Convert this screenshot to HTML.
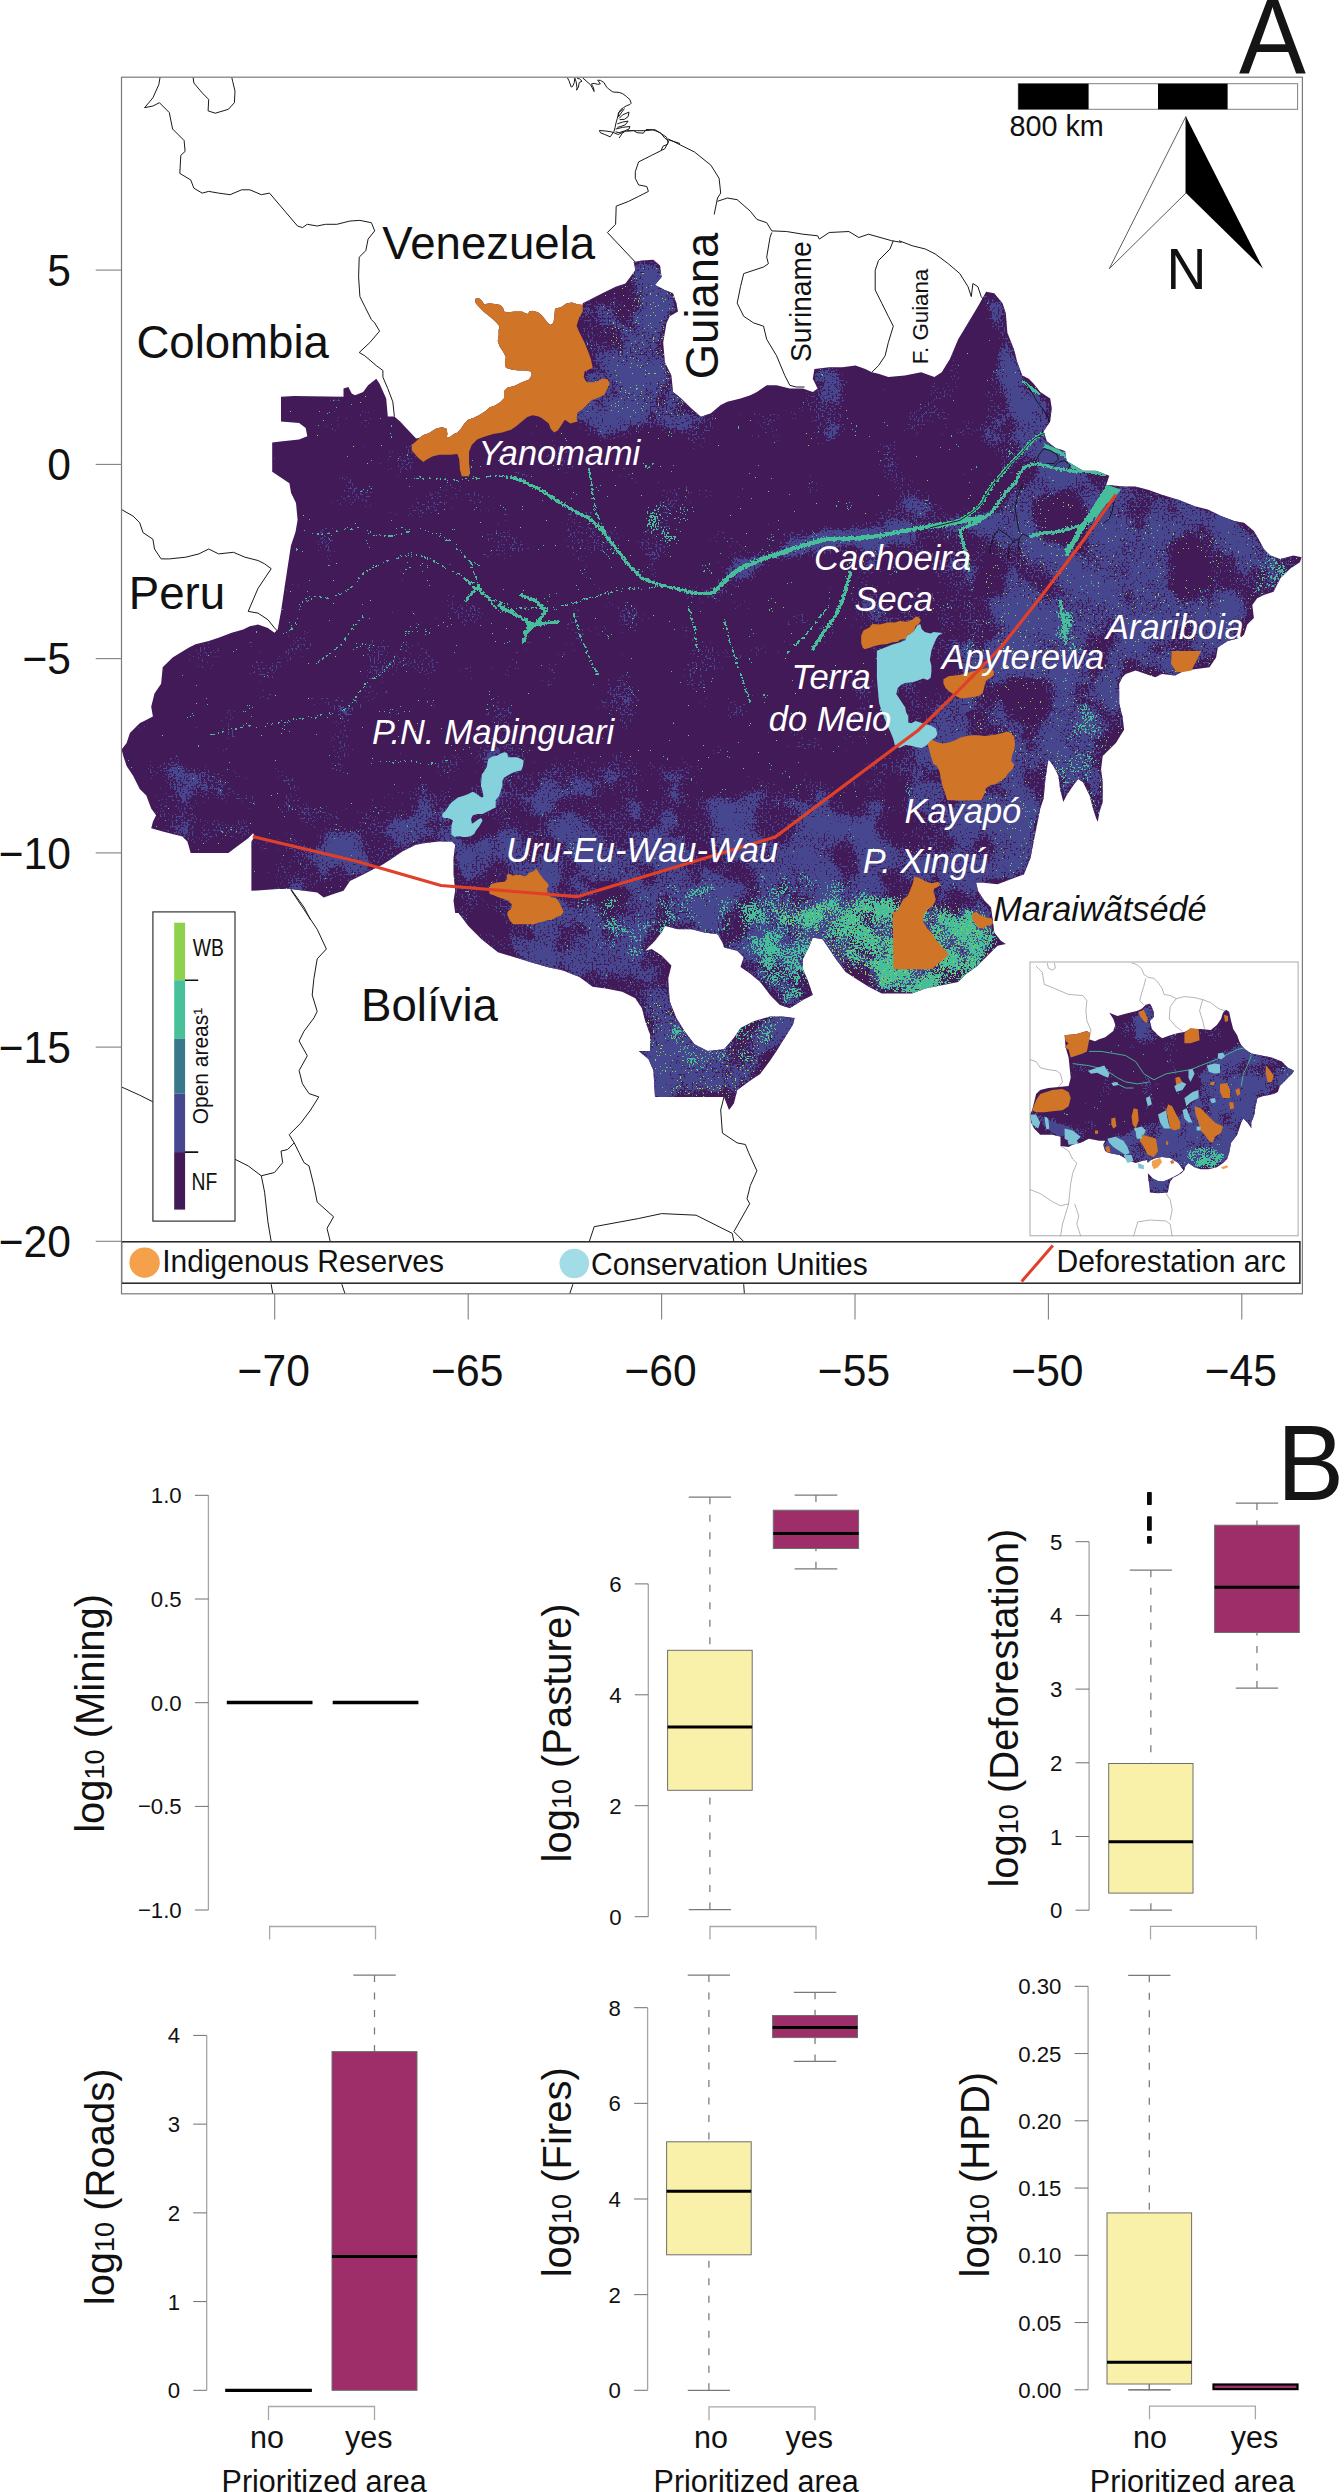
<!DOCTYPE html>
<html><head><meta charset="utf-8"><style>
html,body{margin:0;padding:0;background:#fff;}
svg{display:block;font-family:"Liberation Sans", sans-serif;}
</style></head><body>
<svg width="1339" height="2492" viewBox="0 0 1339 2492">
<rect width="1339" height="2492" fill="#fff"/>
<defs>
<clipPath id="frame"><rect x="121.5" y="77.2" width="1180.9" height="1216.6"/></clipPath>
<clipPath id="amz"><path d="M281.0 421.5 L299.1 423.1 L305.7 428.0 L307.3 436.3 L299.1 439.6 L282.7 441.2 L272.2 442.5 L272.2 471.7 L289.4 483.2 L291.1 493.1 L296.0 503.0 L297.6 520.0 L295.5 532.0 L290.9 545.7 L285.9 578.6 L281.0 611.4 L277.7 629.5 L274.5 632.8 L267.9 627.9 L258.0 624.6 L249.8 626.2 L243.2 629.5 L231.7 632.8 L218.6 637.7 L208.7 641.0 L195.6 644.3 L189.0 647.6 L172.6 657.5 L162.7 667.3 L161.1 683.7 L154.5 693.6 L151.2 706.7 L152.9 716.6 L139.7 723.2 L129.9 733.0 L126.6 742.9 L121.6 749.5 L123.3 756.0 L126.6 765.9 L133.1 775.8 L139.7 788.9 L146.3 795.5 L151.2 808.6 L156.1 815.2 L152.9 821.8 L151.2 828.3 L162.7 831.6 L182.4 836.5 L187.4 841.5 L190.7 853.0 L228.4 853.0 L235.0 848.0 L248.2 838.2 L253.1 833.3 L254.7 836.5 L251.4 841.5 L251.4 890.8 L277.7 889.1 L290.9 889.1 L304.0 890.8 L317.2 892.4 L323.7 897.4 L333.6 894.1 L343.5 890.8 L350.0 880.9 L363.2 874.4 L376.3 867.8 L382.9 864.5 L392.8 857.9 L402.6 851.3 L415.8 844.8 L425.6 843.1 L438.8 841.5 L451.9 841.5 L455.2 844.8 L453.5 857.9 L453.5 874.4 L455.2 890.8 L453.5 900.6 L455.2 912.9 L458.5 912.9 L468.3 926.0 L481.5 939.2 L497.9 952.3 L514.4 957.2 L530.8 962.2 L547.2 967.1 L563.0 970.4 L579.4 976.9 L592.6 986.8 L605.7 988.4 L622.2 991.7 L635.3 998.3 L641.9 1008.2 L645.2 1021.3 L650.1 1034.5 L650.1 1050.9 L638.6 1050.9 L648.4 1059.1 L653.4 1070.6 L655.0 1096.9 L694.5 1096.9 L724.0 1096.9 L729.0 1110.0 L733.9 1103.5 L737.2 1090.3 L750.3 1080.5 L760.2 1073.9 L770.0 1060.7 L776.6 1050.9 L784.8 1037.7 L793.0 1024.6 L794.7 1018.0 L783.2 1016.4 L770.0 1016.4 L753.6 1021.3 L740.5 1027.9 L733.9 1037.7 L724.0 1049.2 L707.6 1050.9 L694.5 1044.3 L684.6 1031.2 L676.4 1018.0 L669.8 1001.6 L668.2 978.6 L671.4 965.4 L661.6 955.6 L651.7 949.0 L645.2 950.7 L655.0 940.8 L661.6 932.6 L664.9 926.0 L678.0 929.3 L691.2 929.3 L704.3 932.6 L717.5 934.2 L722.4 942.4 L724.0 947.4 L737.2 950.7 L743.7 957.2 L740.5 967.1 L750.3 973.7 L760.2 981.9 L770.0 995.0 L779.9 1004.9 L789.8 1008.2 L802.9 999.9 L812.8 995.0 L807.8 980.2 L802.9 968.7 L802.9 958.9 L809.5 945.7 L812.8 937.5 L822.6 939.2 L829.2 949.0 L835.8 958.9 L845.6 972.0 L855.5 978.6 L868.6 986.8 L881.8 993.4 L898.2 993.4 L912.1 993.4 L925.3 988.4 L941.7 985.2 L958.2 981.9 L964.7 975.3 L977.9 965.4 L987.7 955.6 L997.6 945.7 L1005.8 944.1 L1000.9 940.8 L994.3 932.6 L992.7 919.4 L991.0 907.2 L984.4 900.6 L977.9 890.8 L976.2 882.6 L981.2 882.6 L997.6 884.2 L1010.7 879.3 L1023.9 874.4 L1030.5 857.9 L1033.7 841.5 L1037.0 825.0 L1040.3 808.6 L1043.6 798.8 L1045.2 782.3 L1046.9 769.2 L1048.5 759.3 L1053.5 765.9 L1058.4 775.8 L1060.0 788.9 L1063.3 802.0 L1066.6 795.5 L1073.2 785.6 L1078.1 779.0 L1083.0 782.3 L1089.6 795.5 L1092.9 808.6 L1096.2 818.5 L1097.8 821.8 L1099.5 811.9 L1102.7 802.0 L1102.7 782.3 L1101.1 769.2 L1102.7 756.0 L1109.3 749.5 L1115.9 742.9 L1124.1 729.8 L1122.5 716.6 L1119.2 703.5 L1119.2 683.7 L1122.5 677.2 L1125.7 673.9 L1135.6 670.6 L1155.3 677.2 L1161.9 673.9 L1175.0 675.5 L1184.9 670.6 L1196.4 669.0 L1209.5 667.3 L1216.1 657.5 L1217.8 647.6 L1227.6 641.0 L1240.8 637.7 L1244.1 634.5 L1247.3 624.6 L1253.9 618.0 L1252.3 604.9 L1257.2 598.3 L1263.8 595.0 L1273.6 591.7 L1280.2 578.6 L1290.1 568.7 L1299.9 562.2 L1301.6 557.2 L1293.4 555.6 L1280.2 558.9 L1270.3 555.6 L1263.8 549.0 L1260.5 542.4 L1253.9 530.9 L1244.1 522.7 L1234.2 521.1 L1221.0 516.1 L1207.9 509.6 L1194.8 506.3 L1178.3 499.7 L1161.9 494.8 L1148.8 489.9 L1135.6 486.6 L1122.5 486.6 L1109.3 484.9 L1106.0 485.6 L1109.3 475.7 L1096.2 470.8 L1083.0 470.8 L1066.6 460.9 L1065.0 451.1 L1055.1 447.8 L1046.9 441.2 L1043.6 431.3 L1050.2 421.5 L1051.8 408.3 L1050.2 398.5 L1040.3 391.9 L1033.7 383.7 L1028.8 378.8 L1022.2 375.5 L1017.3 362.3 L1014.0 349.2 L1007.4 332.8 L1005.8 313.0 L1002.5 303.2 L994.3 293.3 L986.1 291.7 L977.9 306.5 L968.0 322.9 L958.2 339.3 L949.9 359.0 L941.7 372.2 L934.4 377.1 L921.2 372.2 L904.8 375.5 L888.3 377.1 L878.5 373.8 L871.9 372.2 L865.3 368.9 L855.5 365.6 L842.3 367.3 L829.2 367.3 L814.4 368.9 L812.8 378.8 L817.7 388.6 L812.8 391.9 L802.9 388.6 L789.8 388.6 L776.6 385.3 L766.7 385.3 L756.9 391.9 L750.3 395.2 L740.5 398.5 L727.3 401.8 L720.7 405.0 L710.9 413.3 L701.0 416.8 L691.2 408.3 L681.3 398.5 L673.1 391.9 L671.4 375.5 L664.9 362.3 L663.2 342.6 L666.5 322.9 L669.8 316.3 L678.0 311.4 L676.4 303.2 L673.1 293.3 L664.9 290.0 L655.0 285.1 L661.6 276.9 L660.0 265.4 L653.4 259.8 L641.9 260.5 L633.7 262.1 L635.3 270.3 L625.4 283.5 L615.6 286.7 L602.4 293.3 L582.7 303.2 L582.8 305.1 L577.5 304.2 L572.1 302.4 L566.7 303.3 L561.3 306.9 L555.0 308.7 L554.1 318.5 L553.3 323.0 L550.6 324.8 L547.9 323.0 L545.2 319.4 L541.6 315.0 L538.0 312.3 L532.6 310.8 L529.1 311.4 L528.2 314.1 L525.5 313.2 L521.9 311.4 L514.7 311.4 L507.5 312.3 L504.0 311.4 L503.1 307.8 L500.4 305.1 L496.8 304.2 L489.6 303.3 L484.2 304.2 L482.5 301.5 L478.9 297.9 L475.3 298.8 L475.3 302.4 L477.1 305.1 L480.7 308.7 L484.2 312.3 L487.8 315.0 L493.2 319.4 L496.8 323.0 L499.5 326.6 L498.6 330.2 L498.6 335.6 L497.7 340.9 L499.5 346.3 L503.1 351.7 L505.8 357.1 L504.9 362.5 L505.8 367.8 L511.1 369.6 L518.3 370.5 L525.5 370.5 L530.8 371.4 L531.7 375.0 L529.1 379.5 L521.9 382.2 L514.7 385.8 L507.5 387.5 L504.0 391.1 L504.0 398.3 L500.4 401.9 L495.0 405.5 L489.6 407.3 L486.0 410.8 L478.9 415.3 L473.5 418.0 L468.1 419.8 L464.5 423.4 L460.9 428.8 L457.4 432.4 L453.8 434.1 L450.2 436.8 L446.6 437.7 L447.5 434.1 L446.6 428.8 L442.1 427.0 L435.8 428.8 L428.7 433.3 L423.3 435.0 L419.7 437.7 L416.1 438.6 L400.0 421.6 L405.9 426.4 L394.4 416.6 L387.8 416.6 L386.2 398.5 L379.6 383.7 L376.3 378.8 L368.1 385.3 L363.2 391.9 L355.0 395.2 L351.7 393.6 L348.4 387.0 L343.5 388.6 L343.5 396.8 L294.2 395.9 L281.0 396.8 Z"/></clipPath>
<filter id="fmed" filterUnits="userSpaceOnUse" x="100" y="60" width="1220" height="1250" color-interpolation-filters="sRGB"><feGaussianBlur in="SourceAlpha" stdDeviation="6" result="za"/><feTurbulence type="fractalNoise" baseFrequency="0.025" numOctaves="3" seed="3" result="t1"/><feColorMatrix in="t1" type="matrix" values="0 0 0 0 0  0 0 0 0 0  0 0 0 0 0  1 0 0 0 0" result="n1"/><feTurbulence type="fractalNoise" baseFrequency="0.5" numOctaves="1" seed="4" result="t2"/><feColorMatrix in="t2" type="matrix" values="0 0 0 0 0  0 0 0 0 0  0 0 0 0 0  1 0 0 0 0" result="n2"/><feComposite in="n1" in2="n2" operator="arithmetic" k1="0" k2="0.6" k3="0.6" k4="0" result="n"/><feComposite in="za" in2="n" operator="arithmetic" k1="0" k2="0.3" k3="1" k4="0" result="v"/><feComponentTransfer in="v" result="th"><feFuncA type="discrete" tableValues="0 0 0 0 0 0 0 0 0 0 0 0 0 0 0 0 0 0 0 0 0 0 0 0 0 0 0 0 0 0 0 0 0 0 0 0 0 0 0 0 0 0 0 0 0 0 0 0 0 1 1 1 1 1 1 1 1 1 1 1"/></feComponentTransfer><feFlood flood-color="#46478f" result="c"/><feComposite in="c" in2="th" operator="in"/></filter>
<filter id="fteal" filterUnits="userSpaceOnUse" x="100" y="60" width="1220" height="1250" color-interpolation-filters="sRGB"><feGaussianBlur in="SourceAlpha" stdDeviation="4" result="za"/><feTurbulence type="fractalNoise" baseFrequency="0.05" numOctaves="3" seed="21" result="t1"/><feColorMatrix in="t1" type="matrix" values="0 0 0 0 0  0 0 0 0 0  0 0 0 0 0  1 0 0 0 0" result="n1"/><feTurbulence type="fractalNoise" baseFrequency="0.55" numOctaves="1" seed="22" result="t2"/><feColorMatrix in="t2" type="matrix" values="0 0 0 0 0  0 0 0 0 0  0 0 0 0 0  1 0 0 0 0" result="n2"/><feComposite in="n1" in2="n2" operator="arithmetic" k1="0" k2="0.5" k3="0.7" k4="0" result="n"/><feComposite in="za" in2="n" operator="arithmetic" k1="0" k2="0.3" k3="1" k4="0" result="v"/><feComponentTransfer in="v" result="th"><feFuncA type="discrete" tableValues="0 0 0 0 0 0 0 0 0 0 0 0 0 0 0 0 0 0 0 0 0 0 0 0 0 0 0 0 0 0 0 0 0 0 0 0 0 0 0 0 0 0 0 0 0 0 0 0 0 0 0 0 1 1 1 1 1 1 1 1"/></feComponentTransfer><feFlood flood-color="#45be99" result="c"/><feComposite in="c" in2="th" operator="in"/></filter>
<filter id="friv" filterUnits="userSpaceOnUse" x="100" y="60" width="1220" height="1250" color-interpolation-filters="sRGB"><feGaussianBlur in="SourceAlpha" stdDeviation="1.0" result="za"/><feTurbulence type="fractalNoise" baseFrequency="0.45" numOctaves="2" seed="31" result="t2"/><feColorMatrix in="t2" type="matrix" values="0 0 0 0 0  0 0 0 0 0  0 0 0 0 0  1 0 0 0 0" result="n"/><feComposite in="za" in2="n" operator="arithmetic" k1="0" k2="0.7" k3="1" k4="0" result="v"/><feComponentTransfer in="v" result="th"><feFuncA type="discrete" tableValues="0 0 0 0 0 0 0 0 0 0 0 0 0 0 0 0 0 0 0 0 0 0 0 0 0 0 0 0 0 0 0 0 0 0 0 0 0 0 0 0 0 0 0 0 0 0 0 0 0 0 0 0 1 1 1 1 1 1 1 1"/></feComponentTransfer><feFlood flood-color="#45be99" result="c"/><feComposite in="c" in2="th" operator="in"/></filter>
<filter id="fgrn" filterUnits="userSpaceOnUse" x="100" y="60" width="1220" height="1250" color-interpolation-filters="sRGB"><feGaussianBlur in="SourceAlpha" stdDeviation="3.0" result="za"/><feTurbulence type="fractalNoise" baseFrequency="0.6" numOctaves="2" seed="41" result="t2"/><feColorMatrix in="t2" type="matrix" values="0 0 0 0 0  0 0 0 0 0  0 0 0 0 0  1 0 0 0 0" result="n"/><feComposite in="za" in2="n" operator="arithmetic" k1="0" k2="0.22" k3="1" k4="0" result="v"/><feComponentTransfer in="v" result="th"><feFuncA type="discrete" tableValues="0 0 0 0 0 0 0 0 0 0 0 0 0 0 0 0 0 0 0 0 0 0 0 0 0 0 0 0 0 0 0 0 0 0 0 0 0 0 0 0 0 0 0 0 0 0 0 0 0 0 0 1 1 1 1 1 1 1 1 1"/></feComponentTransfer><feFlood flood-color="#8fcf50" result="c"/><feComposite in="c" in2="th" operator="in"/></filter>
<filter id="fims" filterUnits="userSpaceOnUse" x="1025" y="955" width="280" height="290" color-interpolation-filters="sRGB"><feGaussianBlur in="SourceAlpha" stdDeviation="2" result="za"/><feTurbulence type="fractalNoise" baseFrequency="0.05" numOctaves="3" seed="13" result="t1"/><feColorMatrix in="t1" type="matrix" values="0 0 0 0 0  0 0 0 0 0  0 0 0 0 0  1 0 0 0 0" result="n1"/><feTurbulence type="fractalNoise" baseFrequency="0.6" numOctaves="1" seed="14" result="t2"/><feColorMatrix in="t2" type="matrix" values="0 0 0 0 0  0 0 0 0 0  0 0 0 0 0  1 0 0 0 0" result="n2"/><feComposite in="n1" in2="n2" operator="arithmetic" k1="0" k2="0.6" k3="0.6" k4="0" result="n"/><feComposite in="za" in2="n" operator="arithmetic" k1="0" k2="0.3" k3="1" k4="0" result="v"/><feComponentTransfer in="v" result="th"><feFuncA type="discrete" tableValues="0 0 0 0 0 0 0 0 0 0 0 0 0 0 0 0 0 0 0 0 0 0 0 0 0 0 0 0 0 0 0 0 0 0 0 0 0 0 0 0 0 0 0 0 0 0 0 0 1 1 1 1 1 1 1 1 1 1 1 1"/></feComponentTransfer><feFlood flood-color="#46478f" result="c"/><feComposite in="c" in2="th" operator="in"/></filter>
<filter id="fimt" filterUnits="userSpaceOnUse" x="1025" y="955" width="280" height="290" color-interpolation-filters="sRGB"><feGaussianBlur in="SourceAlpha" stdDeviation="1.5" result="za"/><feTurbulence type="fractalNoise" baseFrequency="0.1" numOctaves="3" seed="19" result="t1"/><feColorMatrix in="t1" type="matrix" values="0 0 0 0 0  0 0 0 0 0  0 0 0 0 0  1 0 0 0 0" result="n1"/><feTurbulence type="fractalNoise" baseFrequency="0.7" numOctaves="1" seed="20" result="t2"/><feColorMatrix in="t2" type="matrix" values="0 0 0 0 0  0 0 0 0 0  0 0 0 0 0  1 0 0 0 0" result="n2"/><feComposite in="n1" in2="n2" operator="arithmetic" k1="0" k2="0.5" k3="0.7" k4="0" result="n"/><feComposite in="za" in2="n" operator="arithmetic" k1="0" k2="0.3" k3="1" k4="0" result="v"/><feComponentTransfer in="v" result="th"><feFuncA type="discrete" tableValues="0 0 0 0 0 0 0 0 0 0 0 0 0 0 0 0 0 0 0 0 0 0 0 0 0 0 0 0 0 0 0 0 0 0 0 0 0 0 0 0 0 0 0 0 0 0 0 0 0 0 0 0 1 1 1 1 1 1 1 1"/></feComponentTransfer><feFlood flood-color="#45be99" result="c"/><feComposite in="c" in2="th" operator="in"/></filter>
</defs>
<g clip-path="url(#frame)">
<path d="M160.1 77.1 L158.8 84.6 L152.9 97.8 L144.6 107.7 L152.9 106.0 L159.4 102.7 L169.3 112.6 L172.6 129.0 L184.1 140.5 L185.1 151.4 L180.8 155.3 L179.8 173.4 L190.7 179.9 L193.9 188.2 L202.2 193.1 L208.7 191.4 L218.6 193.1 L230.1 194.7 L241.6 189.8 L249.8 189.8 L261.3 194.7 L269.5 193.1 L297.5 226.0 L302.4 227.6 L307.3 224.3 L317.2 226.0 L325.4 224.3 L336.9 224.3 L350.0 221.0 L359.9 220.4 L371.4 222.7 L374.7 230.9 L368.1 239.1 L365.8 250.6 L359.2 257.2 L358.6 276.9 L359.9 296.6 L364.8 306.5 L371.4 319.6 L374.7 322.9 L379.6 331.1 L369.8 342.6 L359.2 352.5 L364.8 355.8 L376.3 365.6 L382.9 370.5 L382.9 377.1 L387.8 388.6 L392.8 401.8 L394.4 416.6 M193.0 77.1 L193.9 83.0 L202.2 92.9 L208.7 99.4 L208.1 110.9 L215.3 113.2 L228.4 109.3 L234.4 102.7 L235.0 91.2 L232.7 81.4 L231.7 77.1 M567.2 77.3 L569.0 80.8 L571.2 87.0 L572.5 86.6 L574.3 82.5 L574.8 78.1 L576.1 81.6 L577.0 87.9 L576.6 90.2 L578.4 87.0 L579.3 82.5 L582.0 81.2 L579.7 79.0 L577.0 78.1 M582.4 77.6 L586.0 80.8 L590.5 84.8 L592.3 87.9 L594.1 91.5 L593.6 87.9 L591.8 84.8 L591.4 83.9 L594.1 83.4 L597.6 84.3 L600.3 83.9 L598.5 81.2 L597.6 80.3 L600.3 80.3 L603.9 82.5 L606.6 87.0 L608.4 88.8 L612.9 92.0 L619.1 92.4 L622.7 93.7 L626.3 96.4 L629.9 99.6 L631.2 103.2 L629.9 104.5 L626.3 105.8 L623.6 107.6 L620.9 109.4 L619.1 112.1 L618.2 114.8 L617.3 118.4 L616.0 122.9 L615.1 127.3 L613.8 131.8 L610.2 136.8 L604.8 134.5 L600.3 132.7 L599.4 130.5 L604.8 130.9 L611.1 131.8 L613.8 132.7 L618.2 134.5 L621.8 132.7 L624.5 131.4 L633.5 130.5 L637.1 132.7 L643.3 133.2 L646.0 129.6 L652.3 129.6 L660.4 132.7 L664.8 138.1 L668.4 140.8 L667.5 144.4 L663.0 146.2 L661.3 150.0 M624.5 108.5 L621.8 112.1 L618.7 116.6 L618.2 113.0 L622.7 109.4 M619.1 118.4 L622.7 114.8 L629.0 112.1 L628.1 116.6 L624.5 119.3 L619.6 119.7 M617.3 123.8 L622.7 122.0 L628.1 121.1 L625.4 124.7 L620.9 126.5 L617.3 127.3 M615.6 129.1 L622.7 127.3 L629.9 126.5 L629.0 129.1 L624.5 130.9 L619.1 132.7 L615.6 131.8 M619.1 138.1 L622.7 132.7 L624.5 131.8 M668.4 139.9 L674.7 141.7 L680.0 143.5 M635.3 262.1 L607.4 232.5 L615.6 224.3 L616.2 206.2 L628.7 201.3 L638.6 196.4 L648.4 191.4 L646.8 186.5 L638.6 184.9 L635.3 178.3 L635.3 171.7 L638.6 161.9 L651.7 155.3 L664.9 148.7 L668.2 142.2 L666.5 137.2 L661.6 133.9 L655.0 129.7 L645.2 130.7 L636.9 130.7 L627.1 130.7 M668.2 138.9 L678.0 143.8 L694.5 152.0 L710.9 165.2 L719.1 178.3 L720.7 193.1 L717.5 198.0 L714.2 214.5 M717.5 201.3 L727.3 198.0 L737.2 199.7 L750.3 211.2 L756.9 219.4 L766.7 222.7 L771.7 230.9 L786.5 231.5 L802.9 234.2 L817.7 235.8 L819.3 239.1 L829.2 232.5 L848.9 231.5 L858.8 237.5 L868.6 234.2 L891.6 240.7 L901.5 242.4 M899.0 240.7 L912.1 245.7 L925.3 249.0 L935.1 253.9 L948.3 263.7 L959.8 273.6 L968.0 286.7 L971.3 296.6 L972.9 283.5 L977.9 286.7 L981.2 296.6 L986.1 303.2 M771.7 232.5 L770.0 237.5 L766.7 257.2 L768.4 263.7 L763.5 267.0 L743.7 273.6 L740.5 286.7 L737.2 303.2 L743.7 316.3 L753.6 322.9 L763.5 326.2 L766.7 339.3 L776.6 355.8 L784.8 375.5 L789.8 385.3 L796.3 387.0 L804.5 387.0 M893.3 240.7 L890.0 249.0 L878.5 260.5 L875.2 270.3 L875.2 290.0 L881.8 303.2 L888.3 316.3 L893.3 326.2 L888.3 342.6 L885.1 355.8 L878.5 365.6 L871.9 372.2 M121.6 509.6 L133.1 516.1 L139.7 522.7 L143.0 532.6 L152.9 539.2 L154.5 549.0 L161.1 558.9 L169.3 558.9 L185.7 557.2 L198.9 553.9 L208.7 549.0 L218.6 553.9 L233.4 552.3 L244.9 557.2 L258.0 560.5 L264.6 563.8 L271.2 568.7 L258.0 588.4 L248.2 611.4 L258.0 613.1 L267.9 619.7 L274.5 627.9 L277.7 631.2 M290.9 889.1 L304.0 907.2 L310.6 920.0 M290.9 889.9 L304.0 909.6 L317.2 929.3 L326.4 949.0 L317.2 958.9 L313.9 978.6 L312.2 995.0 L317.2 1011.4 L313.9 1018.0 L304.0 1031.2 L299.1 1041.0 L307.3 1055.8 L299.1 1070.6 L302.4 1083.7 L309.0 1093.6 L318.8 1096.9 L310.6 1110.0 L300.7 1123.2 L289.2 1134.7 L294.2 1142.9 L287.6 1149.5 L281.0 1151.1 L282.7 1162.6 L274.5 1172.5 L261.3 1175.8 L248.2 1165.9 L235.0 1159.3 M294.2 1142.9 L299.1 1152.8 L304.0 1162.6 L309.0 1165.9 L313.9 1185.6 L317.2 1202.1 L333.6 1216.8 L327.0 1228.3 L330.3 1241.5 M261.3 1175.8 L264.6 1192.2 L267.9 1221.8 L271.2 1241.5 M121.6 1087.0 L139.7 1095.2 L152.9 1101.8 M271.2 1284.2 L272.8 1294.1 M341.8 1284.2 L345.1 1294.1 M724.0 1096.9 L720.7 1110.0 L722.4 1133.0 L737.2 1142.9 L745.4 1144.5 L748.7 1152.8 L756.9 1170.8 L750.3 1185.6 L747.0 1198.8 L749.7 1203.7 L733.9 1231.6 L743.7 1241.5 M589.3 1241.5 L594.2 1226.7 L638.6 1218.5 L661.6 1213.6 L696.1 1215.2 L732.2 1233.3 L733.9 1241.5 M569.6 1294.1 L572.9 1284.2 M743.7 1284.2 L744.4 1294.1" fill="none" stroke="#1a1a1a" stroke-width="1.0" stroke-linejoin="round"/>
<path d="M281.0 421.5 L299.1 423.1 L305.7 428.0 L307.3 436.3 L299.1 439.6 L282.7 441.2 L272.2 442.5 L272.2 471.7 L289.4 483.2 L291.1 493.1 L296.0 503.0 L297.6 520.0 L295.5 532.0 L290.9 545.7 L285.9 578.6 L281.0 611.4 L277.7 629.5 L274.5 632.8 L267.9 627.9 L258.0 624.6 L249.8 626.2 L243.2 629.5 L231.7 632.8 L218.6 637.7 L208.7 641.0 L195.6 644.3 L189.0 647.6 L172.6 657.5 L162.7 667.3 L161.1 683.7 L154.5 693.6 L151.2 706.7 L152.9 716.6 L139.7 723.2 L129.9 733.0 L126.6 742.9 L121.6 749.5 L123.3 756.0 L126.6 765.9 L133.1 775.8 L139.7 788.9 L146.3 795.5 L151.2 808.6 L156.1 815.2 L152.9 821.8 L151.2 828.3 L162.7 831.6 L182.4 836.5 L187.4 841.5 L190.7 853.0 L228.4 853.0 L235.0 848.0 L248.2 838.2 L253.1 833.3 L254.7 836.5 L251.4 841.5 L251.4 890.8 L277.7 889.1 L290.9 889.1 L304.0 890.8 L317.2 892.4 L323.7 897.4 L333.6 894.1 L343.5 890.8 L350.0 880.9 L363.2 874.4 L376.3 867.8 L382.9 864.5 L392.8 857.9 L402.6 851.3 L415.8 844.8 L425.6 843.1 L438.8 841.5 L451.9 841.5 L455.2 844.8 L453.5 857.9 L453.5 874.4 L455.2 890.8 L453.5 900.6 L455.2 912.9 L458.5 912.9 L468.3 926.0 L481.5 939.2 L497.9 952.3 L514.4 957.2 L530.8 962.2 L547.2 967.1 L563.0 970.4 L579.4 976.9 L592.6 986.8 L605.7 988.4 L622.2 991.7 L635.3 998.3 L641.9 1008.2 L645.2 1021.3 L650.1 1034.5 L650.1 1050.9 L638.6 1050.9 L648.4 1059.1 L653.4 1070.6 L655.0 1096.9 L694.5 1096.9 L724.0 1096.9 L729.0 1110.0 L733.9 1103.5 L737.2 1090.3 L750.3 1080.5 L760.2 1073.9 L770.0 1060.7 L776.6 1050.9 L784.8 1037.7 L793.0 1024.6 L794.7 1018.0 L783.2 1016.4 L770.0 1016.4 L753.6 1021.3 L740.5 1027.9 L733.9 1037.7 L724.0 1049.2 L707.6 1050.9 L694.5 1044.3 L684.6 1031.2 L676.4 1018.0 L669.8 1001.6 L668.2 978.6 L671.4 965.4 L661.6 955.6 L651.7 949.0 L645.2 950.7 L655.0 940.8 L661.6 932.6 L664.9 926.0 L678.0 929.3 L691.2 929.3 L704.3 932.6 L717.5 934.2 L722.4 942.4 L724.0 947.4 L737.2 950.7 L743.7 957.2 L740.5 967.1 L750.3 973.7 L760.2 981.9 L770.0 995.0 L779.9 1004.9 L789.8 1008.2 L802.9 999.9 L812.8 995.0 L807.8 980.2 L802.9 968.7 L802.9 958.9 L809.5 945.7 L812.8 937.5 L822.6 939.2 L829.2 949.0 L835.8 958.9 L845.6 972.0 L855.5 978.6 L868.6 986.8 L881.8 993.4 L898.2 993.4 L912.1 993.4 L925.3 988.4 L941.7 985.2 L958.2 981.9 L964.7 975.3 L977.9 965.4 L987.7 955.6 L997.6 945.7 L1005.8 944.1 L1000.9 940.8 L994.3 932.6 L992.7 919.4 L991.0 907.2 L984.4 900.6 L977.9 890.8 L976.2 882.6 L981.2 882.6 L997.6 884.2 L1010.7 879.3 L1023.9 874.4 L1030.5 857.9 L1033.7 841.5 L1037.0 825.0 L1040.3 808.6 L1043.6 798.8 L1045.2 782.3 L1046.9 769.2 L1048.5 759.3 L1053.5 765.9 L1058.4 775.8 L1060.0 788.9 L1063.3 802.0 L1066.6 795.5 L1073.2 785.6 L1078.1 779.0 L1083.0 782.3 L1089.6 795.5 L1092.9 808.6 L1096.2 818.5 L1097.8 821.8 L1099.5 811.9 L1102.7 802.0 L1102.7 782.3 L1101.1 769.2 L1102.7 756.0 L1109.3 749.5 L1115.9 742.9 L1124.1 729.8 L1122.5 716.6 L1119.2 703.5 L1119.2 683.7 L1122.5 677.2 L1125.7 673.9 L1135.6 670.6 L1155.3 677.2 L1161.9 673.9 L1175.0 675.5 L1184.9 670.6 L1196.4 669.0 L1209.5 667.3 L1216.1 657.5 L1217.8 647.6 L1227.6 641.0 L1240.8 637.7 L1244.1 634.5 L1247.3 624.6 L1253.9 618.0 L1252.3 604.9 L1257.2 598.3 L1263.8 595.0 L1273.6 591.7 L1280.2 578.6 L1290.1 568.7 L1299.9 562.2 L1301.6 557.2 L1293.4 555.6 L1280.2 558.9 L1270.3 555.6 L1263.8 549.0 L1260.5 542.4 L1253.9 530.9 L1244.1 522.7 L1234.2 521.1 L1221.0 516.1 L1207.9 509.6 L1194.8 506.3 L1178.3 499.7 L1161.9 494.8 L1148.8 489.9 L1135.6 486.6 L1122.5 486.6 L1109.3 484.9 L1106.0 485.6 L1109.3 475.7 L1096.2 470.8 L1083.0 470.8 L1066.6 460.9 L1065.0 451.1 L1055.1 447.8 L1046.9 441.2 L1043.6 431.3 L1050.2 421.5 L1051.8 408.3 L1050.2 398.5 L1040.3 391.9 L1033.7 383.7 L1028.8 378.8 L1022.2 375.5 L1017.3 362.3 L1014.0 349.2 L1007.4 332.8 L1005.8 313.0 L1002.5 303.2 L994.3 293.3 L986.1 291.7 L977.9 306.5 L968.0 322.9 L958.2 339.3 L949.9 359.0 L941.7 372.2 L934.4 377.1 L921.2 372.2 L904.8 375.5 L888.3 377.1 L878.5 373.8 L871.9 372.2 L865.3 368.9 L855.5 365.6 L842.3 367.3 L829.2 367.3 L814.4 368.9 L812.8 378.8 L817.7 388.6 L812.8 391.9 L802.9 388.6 L789.8 388.6 L776.6 385.3 L766.7 385.3 L756.9 391.9 L750.3 395.2 L740.5 398.5 L727.3 401.8 L720.7 405.0 L710.9 413.3 L701.0 416.8 L691.2 408.3 L681.3 398.5 L673.1 391.9 L671.4 375.5 L664.9 362.3 L663.2 342.6 L666.5 322.9 L669.8 316.3 L678.0 311.4 L676.4 303.2 L673.1 293.3 L664.9 290.0 L655.0 285.1 L661.6 276.9 L660.0 265.4 L653.4 259.8 L641.9 260.5 L633.7 262.1 L635.3 270.3 L625.4 283.5 L615.6 286.7 L602.4 293.3 L582.7 303.2 L582.8 305.1 L577.5 304.2 L572.1 302.4 L566.7 303.3 L561.3 306.9 L555.0 308.7 L554.1 318.5 L553.3 323.0 L550.6 324.8 L547.9 323.0 L545.2 319.4 L541.6 315.0 L538.0 312.3 L532.6 310.8 L529.1 311.4 L528.2 314.1 L525.5 313.2 L521.9 311.4 L514.7 311.4 L507.5 312.3 L504.0 311.4 L503.1 307.8 L500.4 305.1 L496.8 304.2 L489.6 303.3 L484.2 304.2 L482.5 301.5 L478.9 297.9 L475.3 298.8 L475.3 302.4 L477.1 305.1 L480.7 308.7 L484.2 312.3 L487.8 315.0 L493.2 319.4 L496.8 323.0 L499.5 326.6 L498.6 330.2 L498.6 335.6 L497.7 340.9 L499.5 346.3 L503.1 351.7 L505.8 357.1 L504.9 362.5 L505.8 367.8 L511.1 369.6 L518.3 370.5 L525.5 370.5 L530.8 371.4 L531.7 375.0 L529.1 379.5 L521.9 382.2 L514.7 385.8 L507.5 387.5 L504.0 391.1 L504.0 398.3 L500.4 401.9 L495.0 405.5 L489.6 407.3 L486.0 410.8 L478.9 415.3 L473.5 418.0 L468.1 419.8 L464.5 423.4 L460.9 428.8 L457.4 432.4 L453.8 434.1 L450.2 436.8 L446.6 437.7 L447.5 434.1 L446.6 428.8 L442.1 427.0 L435.8 428.8 L428.7 433.3 L423.3 435.0 L419.7 437.7 L416.1 438.6 L400.0 421.6 L405.9 426.4 L394.4 416.6 L387.8 416.6 L386.2 398.5 L379.6 383.7 L376.3 378.8 L368.1 385.3 L363.2 391.9 L355.0 395.2 L351.7 393.6 L348.4 387.0 L343.5 388.6 L343.5 396.8 L294.2 395.9 L281.0 396.8 Z" fill="#421a58"/>
<g clip-path="url(#amz)">
<g filter="url(#fmed)"><rect x="100" y="60" width="1220" height="1250" fill="#000" fill-opacity="0"/><path d="M612.0 288.0 L630.0 275.0 L640.0 262.0 L655.0 262.0 L662.0 275.0 L662.0 290.0 L676.0 300.0 L678.0 312.0 L667.0 322.0 L664.0 360.0 L672.0 385.0 L690.0 408.0 L705.0 420.0 L680.0 432.0 L640.0 430.0 L612.0 415.0 L600.0 380.0 L604.0 340.0 L605.0 305.0 Z" fill="#000" fill-opacity="1.0" fill-rule="evenodd"/>
<path d="M583.0 303.0 L615.0 300.0 L612.0 340.0 L606.0 380.0 L615.0 415.0 L640.0 430.0 L600.0 440.0 L570.0 440.0 L560.0 420.0 L575.0 400.0 L590.0 370.0 L580.0 340.0 Z" fill="#000" fill-opacity="0.7" fill-rule="evenodd"/>
<path d="M812.0 368.0 L842.0 366.0 L846.0 395.0 L842.0 425.0 L832.0 445.0 L818.0 440.0 L810.0 405.0 Z" fill="#000" fill-opacity="0.8" fill-rule="evenodd"/>
<path d="M986.0 290.0 L994.0 293.0 L1002.0 303.0 L1006.0 313.0 L1008.0 333.0 L1014.0 349.0 L1018.0 362.0 L1022.0 375.0 L1034.0 384.0 L1050.0 398.0 L1052.0 420.0 L1046.0 441.0 L1065.0 452.0 L1083.0 470.0 L1110.0 476.0 L1110.0 500.0 L1075.0 496.0 L1050.0 480.0 L1035.0 462.0 L1025.0 445.0 L1020.0 425.0 L1010.0 405.0 L1002.0 385.0 L997.0 365.0 L995.0 340.0 L992.0 315.0 Z" fill="#000" fill-opacity="1.0" fill-rule="evenodd"/>
<path d="M985.0 395.0 L1010.0 405.0 L1022.0 430.0 L1035.0 462.0 L1000.0 470.0 L985.0 440.0 Z" fill="#000" fill-opacity="0.75" fill-rule="evenodd"/>
<path d="M1040.0 470.0 L1110.0 478.0 L1130.0 487.0 L1160.0 490.0 L1200.0 505.0 L1240.0 520.0 L1260.0 540.0 L1280.0 558.0 L1302.0 557.0 L1290.0 570.0 L1275.0 590.0 L1255.0 600.0 L1254.0 620.0 L1243.0 637.0 L1218.0 648.0 L1210.0 667.0 L1175.0 675.0 L1135.0 671.0 L1120.0 680.0 L1124.0 730.0 L1103.0 756.0 L1103.0 802.0 L1097.0 822.0 L1080.0 780.0 L1063.0 802.0 L1048.0 760.0 L1040.0 808.0 L1030.0 858.0 L1024.0 874.0 L998.0 884.0 L976.0 883.0 L985.0 900.0 L991.0 907.0 L994.0 930.0 L1005.0 944.0 L990.0 955.0 L965.0 975.0 L940.0 986.0 L900.0 993.0 L870.0 990.0 L860.0 960.0 L880.0 930.0 L930.0 900.0 L950.0 860.0 L955.0 810.0 L950.0 760.0 L955.0 700.0 L965.0 640.0 L975.0 580.0 L990.0 530.0 L1010.0 490.0 Z M1168.0 546.0 L1190.0 540.0 L1210.0 555.0 L1212.0 585.0 L1195.0 598.0 L1172.0 590.0 Z M1001.0 685.0 L1025.0 675.0 L1050.0 690.0 L1052.0 715.0 L1030.0 725.0 L1005.0 718.0 Z M965.0 550.0 L990.0 545.0 L1008.0 565.0 L1000.0 590.0 L975.0 592.0 L962.0 572.0 Z M1040.0 500.0 L1075.0 495.0 L1090.0 520.0 L1080.0 545.0 L1050.0 545.0 L1035.0 525.0 Z M900.0 740.0 L930.0 735.0 L945.0 770.0 L940.0 810.0 L915.0 815.0 L900.0 790.0 Z" fill="#000" fill-opacity="0.92" fill-rule="evenodd"/>
<path d="M880.0 500.0 L960.0 490.0 L1000.0 500.0 L990.0 530.0 L975.0 580.0 L965.0 640.0 L955.0 700.0 L950.0 760.0 L955.0 810.0 L950.0 860.0 L930.0 900.0 L900.0 905.0 L880.0 870.0 L870.0 820.0 L875.0 760.0 L880.0 700.0 L870.0 640.0 L860.0 580.0 L850.0 530.0 Z" fill="#000" fill-opacity="0.42" fill-rule="evenodd"/>
<path d="M455.0 850.0 L490.0 835.0 L540.0 825.0 L600.0 812.0 L660.0 800.0 L720.0 792.0 L780.0 796.0 L830.0 806.0 L870.0 822.0 L900.0 845.0 L925.0 870.0 L935.0 900.0 L900.0 925.0 L870.0 950.0 L860.0 975.0 L840.0 990.0 L810.0 1000.0 L790.0 1010.0 L770.0 995.0 L745.0 975.0 L720.0 955.0 L690.0 940.0 L660.0 935.0 L645.0 955.0 L645.0 1000.0 L625.0 995.0 L590.0 988.0 L560.0 975.0 L520.0 962.0 L480.0 945.0 L460.0 920.0 Z M458.0 885.0 L480.0 880.0 L505.0 892.0 L510.0 915.0 L495.0 935.0 L470.0 930.0 L458.0 910.0 Z M600.0 885.0 L615.0 880.0 L625.0 900.0 L612.0 915.0 L598.0 905.0 Z" fill="#000" fill-opacity="0.85" fill-rule="evenodd"/>
<path d="M640.0 1000.0 L645.0 960.0 L655.0 940.0 L668.0 945.0 L672.0 970.0 L675.0 1010.0 L700.0 1040.0 L740.0 1030.0 L770.0 1016.0 L795.0 1018.0 L780.0 1045.0 L760.0 1074.0 L737.0 1090.0 L729.0 1110.0 L724.0 1097.0 L655.0 1097.0 L653.0 1070.0 L640.0 1051.0 L650.0 1035.0 Z" fill="#000" fill-opacity="1.0" fill-rule="evenodd"/>
<path d="M250.0 835.0 L300.0 815.0 L350.0 800.0 L400.0 790.0 L455.0 785.0 L520.0 775.0 L560.0 765.0 L600.0 760.0 L640.0 755.0 L700.0 760.0 L760.0 765.0 L820.0 772.0 L870.0 780.0 L910.0 790.0 L930.0 830.0 L900.0 845.0 L870.0 822.0 L830.0 806.0 L780.0 796.0 L720.0 792.0 L660.0 800.0 L600.0 812.0 L540.0 825.0 L490.0 835.0 L455.0 850.0 L430.0 845.0 L380.0 865.0 L330.0 895.0 L300.0 892.0 L255.0 890.0 Z" fill="#000" fill-opacity="0.3" fill-rule="evenodd"/>
<path d="M310.0 850.0 L340.0 832.0 L380.0 818.0 L420.0 808.0 L452.0 802.0 L456.0 842.0 L430.0 846.0 L400.0 856.0 L370.0 868.0 L340.0 885.0 L315.0 880.0 Z" fill="#000" fill-opacity="0.75" fill-rule="evenodd"/>
<path d="M125.0 750.0 L160.0 760.0 L200.0 775.0 L260.0 790.0 L300.0 805.0 L260.0 830.0 L230.0 850.0 L190.0 850.0 L160.0 830.0 L150.0 810.0 L140.0 790.0 L130.0 770.0 Z" fill="#000" fill-opacity="0.35" fill-rule="evenodd"/>
<path d="M430.0 760.0 L500.0 745.0 L560.0 760.0 L600.0 790.0 L560.0 810.0 L500.0 820.0 L450.0 820.0 Z" fill="#000" fill-opacity="0.5" fill-rule="evenodd"/>
<path d="M680.0 420.0 L720.0 405.0 L760.0 395.0 L810.0 392.0 L850.0 380.0 L900.0 385.0 L940.0 380.0 L980.0 390.0 L985.0 430.0 L960.0 440.0 L900.0 445.0 L850.0 450.0 L800.0 450.0 L740.0 445.0 L700.0 440.0 Z" fill="#000" fill-opacity="0.05" fill-rule="evenodd"/><path d="M712.8 593.1 L727.8 578.2 L742.7 567.0 L761.4 559.5 L783.8 552.0 L806.2 544.6 L824.9 539.0 L847.3 539.0 L869.7 537.1 L892.1 533.4 L910.8 529.6 L929.5 525.9 L948.1 524.0 L966.8 520.3 L991.0 517.8 L1007.5 512.9 L1023.9 509.6" fill="none" stroke="#000" stroke-opacity="0.9" stroke-width="18" stroke-linejoin="round" stroke-linecap="round"/><path d="M500.0 475.5 L522.4 481.1 L544.8 492.3 L567.2 507.2 L589.6 518.4 L604.6 533.4 L615.8 548.3 L627.0 563.2 L641.9 578.2 L656.8 583.8 L671.8 587.5 L694.2 593.1 L712.8 593.1" fill="none" stroke="#000" stroke-opacity="0.5" stroke-width="12" stroke-linejoin="round" stroke-linecap="round"/></g>
<g filter="url(#fteal)"><rect x="100" y="60" width="1220" height="1250" fill="#000" fill-opacity="0"/><path d="M790.0 925.0 L830.0 935.0 L855.0 965.0 L880.0 990.0 L920.0 995.0 L960.0 985.0 L985.0 965.0 L1000.0 940.0 L990.0 915.0 L965.0 905.0 L935.0 905.0 L900.0 900.0 L860.0 895.0 L820.0 905.0 Z" fill="#000" fill-opacity="1.0" fill-rule="evenodd"/>
<path d="M560.0 900.0 L640.0 890.0 L720.0 880.0 L800.0 870.0 L860.0 880.0 L900.0 900.0 L860.0 910.0 L800.0 925.0 L760.0 945.0 L720.0 960.0 L680.0 950.0 L640.0 960.0 L600.0 945.0 L580.0 930.0 Z" fill="#000" fill-opacity="0.45" fill-rule="evenodd"/>
<path d="M745.0 905.0 L800.0 900.0 L815.0 940.0 L810.0 990.0 L790.0 1005.0 L760.0 985.0 L745.0 950.0 Z" fill="#000" fill-opacity="0.8" fill-rule="evenodd"/>
<path d="M680.0 1010.0 L740.0 1000.0 L790.0 1015.0 L760.0 1050.0 L720.0 1080.0 L690.0 1070.0 L670.0 1040.0 Z" fill="#000" fill-opacity="0.55" fill-rule="evenodd"/>
<path d="M1020.0 880.0 L1060.0 860.0 L1090.0 820.0 L1100.0 770.0 L1110.0 720.0 L1080.0 700.0 L1050.0 760.0 L1030.0 830.0 Z" fill="#000" fill-opacity="0.5" fill-rule="evenodd"/>
<path d="M1250.0 560.0 L1302.0 555.0 L1290.0 575.0 L1260.0 600.0 Z" fill="#000" fill-opacity="0.75" fill-rule="evenodd"/>
<path d="M1052.0 598.0 L1068.0 596.0 L1078.0 640.0 L1072.0 662.0 L1058.0 642.0 Z" fill="#000" fill-opacity="0.8" fill-rule="evenodd"/>
<path d="M645.0 505.0 L690.0 508.0 L695.0 540.0 L665.0 545.0 L645.0 525.0 Z" fill="#000" fill-opacity="0.55" fill-rule="evenodd"/></g>
<g filter="url(#fgrn)"><rect x="100" y="60" width="1220" height="1250" fill="#000" fill-opacity="0"/><path d="M760.0 900.0 L830.0 900.0 L900.0 895.0 L990.0 910.0 L1000.0 945.0 L960.0 985.0 L900.0 995.0 L850.0 985.0 L800.0 940.0 Z" fill="#000" fill-opacity="0.8" fill-rule="evenodd"/>
<path d="M640.0 1000.0 L700.0 1000.0 L790.0 1015.0 L760.0 1070.0 L730.0 1100.0 L660.0 1095.0 L645.0 1040.0 Z" fill="#000" fill-opacity="0.6" fill-rule="evenodd"/>
<path d="M600.0 255.0 L680.0 270.0 L690.0 420.0 L610.0 420.0 Z" fill="#000" fill-opacity="0.5" fill-rule="evenodd"/>
<path d="M1000.0 480.0 L1300.0 550.0 L1220.0 660.0 L1110.0 800.0 L1000.0 880.0 L960.0 700.0 Z" fill="#000" fill-opacity="0.4" fill-rule="evenodd"/></g>
<g filter="url(#friv)"><rect x="100" y="60" width="1220" height="1250" fill="#000" fill-opacity="0"/><path d="M405.0 478.0 L430.0 478.0 L460.0 480.0 L500.0 475.5 L515.0 478.0" fill="none" stroke="#000" stroke-opacity="0.72" stroke-width="2.2" stroke-linejoin="round"/><path d="M510.0 477.0 L522.4 481.1 L544.8 492.3 L567.2 507.2 L589.6 518.4 L604.6 533.4 L615.8 548.3 L627.0 563.2 L641.9 578.2 L656.8 583.8 L671.8 587.5 L694.2 593.1 L712.8 593.1" fill="none" stroke="#000" stroke-opacity="1" stroke-width="3.3" stroke-linejoin="round"/><path d="M712.8 593.1 L727.8 578.2 L742.7 567.0 L761.4 559.5 L783.8 552.0 L806.2 544.6 L824.9 539.0 L847.3 539.0 L869.7 537.1 L892.1 533.4 L910.8 529.6 L929.5 525.9 L948.1 524.0 L966.8 520.3 L985.0 517.0" fill="none" stroke="#000" stroke-opacity="1" stroke-width="4.5" stroke-linejoin="round"/><path d="M464.0 578.0 L473.9 587.9 L483.7 594.5 L500.0 611.8 L522.4 608.0 L556.0 608.0 L593.4 596.8 L623.2 589.4 L656.8 587.5" fill="none" stroke="#000" stroke-opacity="0.74" stroke-width="2.2" stroke-linejoin="round"/><path d="M469.8 561.0 L477.2 581.3 L483.7 594.5 L496.9 601.0 L510.0 606.0" fill="none" stroke="#000" stroke-opacity="0.72" stroke-width="2.2" stroke-linejoin="round"/><path d="M519.9 594.5 L536.3 601.0 L546.2 610.9 L536.3 624.0 L523.2 633.9" fill="none" stroke="#000" stroke-opacity="1" stroke-width="3.5" stroke-linejoin="round"/><path d="M529.8 620.7 L523.2 643.7" fill="none" stroke="#000" stroke-opacity="1" stroke-width="3.2" stroke-linejoin="round"/><path d="M588.9 466.3 L592.2 489.3 L595.5 512.3 L605.3 532.0" fill="none" stroke="#000" stroke-opacity="0.8" stroke-width="2.5" stroke-linejoin="round"/><path d="M851.0 570.7 L843.5 596.8 L836.0 615.5 L824.9 630.4 L812.0 650.0" fill="none" stroke="#000" stroke-opacity="1" stroke-width="3.5" stroke-linejoin="round"/><path d="M959.3 529.6 L961.4 536.8 L964.4 547.3 L967.3 559.2 L968.8 571.2" fill="none" stroke="#000" stroke-opacity="1" stroke-width="3.5" stroke-linejoin="round"/><path d="M724.0 618.0 L730.6 644.3 L737.2 664.0 L743.7 683.7 L750.3 703.5" fill="none" stroke="#000" stroke-opacity="0.75" stroke-width="2.5" stroke-linejoin="round"/><path d="M687.9 604.9 L694.5 627.9 L697.7 650.9" fill="none" stroke="#000" stroke-opacity="0.75" stroke-width="2.5" stroke-linejoin="round"/><path d="M572.9 611.4 L579.4 634.5 L589.3 657.5 L599.2 677.2" fill="none" stroke="#000" stroke-opacity="0.75" stroke-width="2.5" stroke-linejoin="round"/><path d="M786.5 654.2 L802.9 637.7 L819.3 618.0 L829.2 604.9" fill="none" stroke="#000" stroke-opacity="0.75" stroke-width="2.5" stroke-linejoin="round"/><path d="M1109.3 486.6 L1096.2 506.3 L1083.0 526.0 L1073.2 542.4 L1066.6 552.3" fill="none" stroke="#000" stroke-opacity="1" stroke-width="5.5" stroke-linejoin="round"/><path d="M1060.0 600.0 L1063.0 620.0 L1066.0 645.0" fill="none" stroke="#000" stroke-opacity="1" stroke-width="3" stroke-linejoin="round"/><path d="M497.9 604.9 L520.9 618.0 L534.1 624.6 L560.0 621.3" fill="none" stroke="#000" stroke-opacity="1" stroke-width="3.2" stroke-linejoin="round"/><path d="M297.3 525.7 L310.3 534.9 L328.6 533.6 L344.3 528.4 L360.0 528.4 L375.7 534.9 L391.4 536.2 L407.1 532.3 L417.5 528.4 L433.2 532.3 L448.9 540.1 L459.3 550.6 L469.8 561.0 L480.0 566.3" fill="none" stroke="#000" stroke-opacity="0.7" stroke-width="2.0" stroke-linejoin="round"/><path d="M281.6 634.2 L292.0 629.0 L297.3 618.5 L299.9 602.8 L313.0 597.6 L328.6 597.6 L344.3 592.4 L354.8 584.5 L365.2 571.5 L380.9 563.6 L396.6 558.4 L412.3 553.2 L428.0 558.4 L443.6 566.3 L459.3 574.1 L475.0 584.5" fill="none" stroke="#000" stroke-opacity="0.7" stroke-width="2.0" stroke-linejoin="round"/><path d="M205.8 736.1 L218.9 733.5 L234.5 728.3 L250.2 725.7 L265.9 724.4 L281.6 721.8 L297.3 719.2 L313.0 716.5 L328.6 713.9 L344.3 710.0 L354.8 699.6 L365.2 683.9 L380.9 673.4 L391.4 663.0 L401.8 647.3 L407.1 634.2 L412.3 623.8" fill="none" stroke="#000" stroke-opacity="0.66" stroke-width="2.0" stroke-linejoin="round"/><path d="M378.3 761.0 L391.4 762.3 L404.4 761.0 L417.5 762.3 L433.2 763.6 L448.9 759.7" fill="none" stroke="#000" stroke-opacity="0.66" stroke-width="2.0" stroke-linejoin="round"/><path d="M313.0 668.2 L323.4 657.7 L339.1 647.3 L346.9 636.8 L357.4 621.1 L365.2 615.9" fill="none" stroke="#000" stroke-opacity="0.62" stroke-width="2.0" stroke-linejoin="round"/><path d="M464.6 602.8 L469.8 595.0 L475.0 589.8 L480.0 584.5" fill="none" stroke="#000" stroke-opacity="0.95" stroke-width="2.8" stroke-linejoin="round"/><path d="M930.0 527.9 L944.9 524.1 L959.9 520.4 L973.3 511.4 L982.3 502.5 L986.8 493.5 L992.7 484.6 L1000.2 475.6 L1009.2 465.1 L1016.6 457.7 L1022.6 451.7 L1028.6 444.2 L1034.6 438.3 L1040.5 435.3 L1046.5 432.3" fill="none" stroke="#000" stroke-opacity="1" stroke-width="3.5" stroke-linejoin="round"/><path d="M959.9 529.4 L974.8 523.4 L989.7 514.4 L998.7 502.5 L1004.7 493.5 L1010.7 487.5 L1016.6 481.6 L1019.6 472.6 L1025.6 466.6 L1034.6 463.6 L1043.5 465.1 L1054.0 468.1 L1064.4 469.6 L1071.9 471.1 L1080.9 471.9" fill="none" stroke="#000" stroke-opacity="1" stroke-width="3.2" stroke-linejoin="round"/><path d="M1028.6 536.8 L1040.5 533.8 L1052.5 532.4 L1061.4 530.9 L1071.9 527.9 L1079.4 526.4 L1086.8 523.4 L1092.8 517.4 L1098.8 508.5 L1104.8 499.5 L1109.2 493.5 L1115.2 490.5" fill="none" stroke="#000" stroke-opacity="1" stroke-width="3.5" stroke-linejoin="round"/><path d="M1079.4 530.9 L1073.4 541.3 L1068.9 551.8 L1065.9 556.3" fill="none" stroke="#000" stroke-opacity="1" stroke-width="3.5" stroke-linejoin="round"/><path d="M1043.5 445.7 L1049.5 447.2 L1057.0 451.7 L1064.4 454.7 L1068.9 460.7 L1073.4 466.6 L1079.4 469.6 L1086.8 471.1 L1094.3 472.6 L1107.7 474.1" fill="none" stroke="#000" stroke-opacity="1" stroke-width="3.5" stroke-linejoin="round"/><path d="M1022.6 380.0 L1028.6 386.0 L1034.6 390.5 L1040.5 394.9" fill="none" stroke="#000" stroke-opacity="1" stroke-width="3" stroke-linejoin="round"/></g>
<path d="M1106.3 484.6 L1121.2 489.8 L1115.2 496.5 L1106.3 504.0 L1098.8 514.4 L1094.3 521.9 L1097.3 511.4 L1101.8 499.5 Z M1043.5 442.7 L1049.5 445.7 L1059.9 450.2 L1068.9 457.7 L1064.4 454.7 L1055.5 451.7 L1046.5 448.7 Z" fill="#45be99" />
<path d="M930.0 527.9 L944.9 524.1 L959.9 520.4 L973.3 511.4 L982.3 502.5 L986.8 493.5 L992.7 484.6 L1000.2 475.6 L1009.2 465.1 L1016.6 457.7 L1022.6 451.7 L1028.6 444.2 L1034.6 438.3 L1040.5 435.3 L1046.5 432.3 L1049.5 424.8 L1048.0 417.3 L1043.5 409.9 L1037.5 402.4 L1031.6 391.9 L1025.6 383.0 M989.7 553.3 L991.2 544.3 L994.2 535.3 L998.7 529.4 L1007.7 535.3 L1013.6 541.3 L1019.6 538.3 L1022.6 533.8 L1025.6 535.3 L1028.6 536.8 M1007.7 559.2 L1009.2 547.3 L1013.6 541.3 M1019.6 532.4 L1018.1 526.4 L1016.6 517.4 L1015.1 508.5 L1016.6 499.5 L1019.6 490.5 L1022.6 484.6 M1019.6 550.3 L1018.1 544.3 L1019.6 538.3 M1103.3 523.4 L1109.2 518.9 L1112.2 511.4 L1113.7 502.5 M1034.6 463.6 L1039.0 454.7 L1043.5 448.7 L1049.5 450.2 L1057.0 454.7 L1058.5 459.2 L1054.0 463.6 L1046.5 463.6 M1052.5 468.1 L1058.5 462.2 L1064.4 460.7 L1070.4 465.1 L1067.4 469.6" fill="none" stroke="#111" stroke-width="0.9"/>
</g>
<path d="M475.3 298.8 L478.9 297.9 L482.5 301.5 L484.2 304.2 L489.6 303.3 L496.8 304.2 L500.4 305.1 L503.1 307.8 L504.0 311.4 L507.5 312.3 L514.7 311.4 L521.9 311.4 L525.5 313.2 L528.2 314.1 L529.1 311.4 L532.6 310.8 L538.0 312.3 L541.6 315.0 L545.2 319.4 L547.9 323.0 L550.6 324.8 L553.3 323.0 L554.1 318.5 L555.0 308.7 L561.3 306.9 L566.7 303.3 L572.1 302.4 L577.5 304.2 L582.8 305.1 L582.8 311.4 L579.2 317.6 L576.6 325.7 L579.2 332.0 L584.6 342.7 L588.2 351.7 L590.9 358.9 L592.7 367.8 L584.6 371.4 L583.7 376.8 L586.4 382.2 L595.4 382.2 L602.5 378.6 L607.9 379.5 L609.7 384.0 L606.1 391.1 L604.3 394.7 L597.2 398.3 L591.8 400.1 L588.2 403.7 L582.8 409.1 L577.5 412.6 L576.6 418.0 L577.5 421.6 L570.3 423.4 L564.9 419.8 L561.3 425.2 L557.7 430.6 L554.1 432.4 L550.6 428.8 L548.8 423.4 L541.6 418.0 L538.0 416.2 L532.6 415.3 L527.3 417.1 L521.9 421.6 L516.5 426.1 L511.1 429.7 L502.2 432.4 L493.2 434.1 L484.2 436.8 L477.1 439.5 L471.7 444.9 L469.0 452.1 L469.0 462.8 L469.9 470.0 L469.0 476.3 L461.8 476.3 L460.0 470.0 L459.2 459.2 L457.4 453.9 L450.2 454.8 L439.4 454.8 L432.3 456.6 L426.0 460.1 L423.3 461.9 L417.9 457.5 L411.7 450.3 L411.7 444.9 L416.1 441.3 L419.7 437.7 L423.3 435.0 L428.7 433.3 L435.8 428.8 L442.1 427.0 L446.6 428.8 L447.5 434.1 L446.6 437.7 L450.2 436.8 L453.8 434.1 L457.4 432.4 L460.9 428.8 L464.5 423.4 L468.1 419.8 L473.5 418.0 L478.9 415.3 L486.0 410.8 L489.6 407.3 L495.0 405.5 L500.4 401.9 L504.0 398.3 L504.0 391.1 L507.5 387.5 L514.7 385.8 L521.9 382.2 L529.1 379.5 L531.7 375.0 L530.8 371.4 L525.5 370.5 L518.3 370.5 L511.1 369.6 L505.8 367.8 L504.9 362.5 L505.8 357.1 L503.1 351.7 L499.5 346.3 L497.7 340.9 L498.6 335.6 L498.6 330.2 L499.5 326.6 L496.8 323.0 L493.2 319.4 L487.8 315.0 L484.2 312.3 L480.7 308.7 L477.1 305.1 L475.3 302.4 Z M861.2 635.8 L863.4 630.6 L869.4 627.6 L872.4 623.9 L879.9 624.6 L887.3 622.4 L894.8 622.4 L899.3 620.9 L906.8 621.7 L912.7 619.4 L915.7 616.4 L918.7 617.2 L920.9 620.2 L918.7 623.9 L915.7 626.1 L914.2 629.9 L912.0 632.9 L906.8 635.8 L906.0 638.8 L900.8 639.6 L897.8 641.8 L891.8 642.6 L887.3 644.1 L879.9 644.8 L873.9 646.3 L869.4 647.8 L864.9 649.3 L862.7 647.8 L861.2 643.3 Z M943.4 679.2 L948.6 676.2 L954.6 675.4 L960.5 674.7 L966.5 673.2 L971.0 671.7 L977.0 670.2 L982.9 668.7 L988.9 668.0 L993.4 670.2 L994.1 674.7 L990.4 677.7 L985.9 680.7 L984.4 686.6 L982.9 692.6 L979.9 695.6 L974.0 697.1 L968.0 697.8 L962.0 698.6 L957.5 697.1 L953.1 694.1 L948.6 691.1 L945.6 688.1 L943.4 683.6 Z M926.9 739.7 L932.2 739.7 L936.6 741.9 L942.6 743.4 L948.6 742.6 L954.6 740.4 L960.5 737.4 L966.5 735.9 L972.5 735.2 L978.5 735.2 L984.4 735.9 L990.4 735.2 L996.4 734.4 L1002.4 732.9 L1006.8 731.4 L1011.3 732.9 L1014.3 737.4 L1015.0 743.4 L1014.3 749.4 L1012.1 755.3 L1011.3 761.3 L1014.3 764.3 L1012.8 768.8 L1008.3 773.3 L1005.3 777.7 L1000.9 780.7 L996.4 783.7 L990.4 785.2 L985.9 788.2 L984.4 794.2 L981.4 800.0 L969.5 800.6 L957.5 800.6 L947.1 800.0 L945.6 794.2 L942.6 786.7 L941.1 779.2 L939.6 771.8 L936.6 765.8 L933.6 764.3 L931.4 758.3 L929.2 749.4 L927.7 744.9 Z M1171.8 650.9 L1201.3 650.9 L1194.8 664.0 L1191.5 670.6 L1181.6 672.2 L1176.7 672.2 L1171.1 664.0 Z M914.4 876.7 L919.7 877.9 L925.7 881.5 L931.7 883.3 L937.7 882.1 L940.7 883.9 L938.9 886.3 L934.1 888.7 L933.5 892.3 L935.9 899.4 L932.9 905.4 L926.9 910.2 L923.3 915.0 L923.3 922.1 L926.9 928.1 L931.7 932.9 L935.3 938.9 L941.3 946.0 L949.0 954.4 L943.6 959.2 L937.7 964.0 L931.7 969.3 L919.7 969.3 L907.8 969.3 L893.5 969.3 L892.9 931.7 L892.9 912.6 L898.2 910.2 L900.6 904.2 L903.0 899.4 L907.8 895.8 L910.2 889.9 L912.6 883.9 Z M972.9 913.2 L975.9 912.0 L979.5 914.4 L983.1 916.2 L986.7 917.4 L991.4 918.5 L993.2 922.1 L991.4 925.1 L986.7 925.7 L983.1 928.7 L979.5 928.1 L975.9 924.5 L973.5 920.9 L971.7 918.5 Z M490.4 884.5 L496.5 882.5 L504.5 881.8 L507.2 879.1 L506.5 875.1 L508.6 873.8 L511.2 875.1 L513.3 875.8 L515.3 874.4 L520.7 875.1 L524.7 876.5 L527.4 875.1 L528.7 873.1 L534.1 871.1 L536.1 868.4 L537.5 870.4 L539.5 873.8 L543.5 879.1 L547.5 883.2 L548.9 885.9 L546.9 888.6 L547.5 892.6 L548.9 894.6 L550.9 897.3 L555.6 898.0 L558.3 900.7 L561.0 906.0 L563.7 911.4 L561.0 915.4 L555.6 917.5 L551.6 920.1 L547.5 920.1 L543.5 921.5 L538.1 922.8 L534.1 924.2 L527.4 924.2 L520.7 924.2 L513.3 924.2 L509.9 920.8 L507.2 914.8 L507.9 911.4 L511.2 908.7 L511.9 904.7 L508.6 900.7 L504.5 899.3 L500.5 898.0 L496.5 896.6 L493.8 895.3 L489.7 893.9 L489.1 891.2 L491.1 889.9 L489.7 887.2 Z" fill="#d07428" />
<path d="M876.9 650.8 L884.4 647.8 L891.8 644.8 L899.3 642.6 L905.3 640.3 L906.8 635.8 L911.2 633.6 L914.2 630.6 L917.2 625.4 L920.2 623.9 L921.7 629.1 L924.7 632.1 L930.7 633.6 L933.6 632.1 L942.6 632.9 L938.1 635.8 L935.9 639.6 L933.6 644.8 L931.4 650.8 L930.7 655.3 L929.9 659.7 L931.4 665.7 L931.4 671.7 L930.7 677.7 L927.7 679.9 L923.2 678.4 L917.2 680.7 L912.7 682.2 L905.3 682.9 L901.5 684.4 L897.8 688.1 L896.3 694.1 L899.3 698.6 L902.3 703.1 L905.3 707.5 L906.0 712.0 L908.3 716.5 L908.3 722.5 L911.2 723.2 L915.7 721.0 L920.2 722.5 L924.7 724.0 L930.7 725.5 L935.9 728.5 L937.4 734.4 L935.1 737.4 L930.7 740.4 L926.2 745.6 L921.7 747.9 L915.7 747.1 L909.7 745.6 L905.3 744.9 L899.3 747.9 L894.8 744.9 L893.3 738.9 L890.3 731.4 L887.3 725.5 L884.4 718.0 L881.4 710.5 L879.1 703.1 L878.4 695.6 L877.6 686.6 L876.9 677.7 L876.9 667.2 L876.9 659.7 Z M442.3 814.0 L445.6 810.7 L448.9 805.7 L451.4 802.4 L454.7 800.0 L457.9 797.5 L462.9 795.9 L467.8 794.2 L472.7 791.8 L476.0 793.4 L479.3 795.9 L481.8 797.5 L483.4 796.7 L482.6 790.9 L480.9 786.0 L481.4 779.4 L481.8 774.5 L484.2 771.2 L486.7 767.1 L488.3 758.9 L492.4 756.4 L497.4 755.6 L499.8 754.0 L504.0 752.3 L507.2 753.1 L508.1 757.3 L512.2 757.3 L517.1 757.3 L521.2 758.9 L523.7 760.5 L522.9 766.3 L521.2 770.4 L517.1 771.2 L512.2 772.9 L508.1 775.3 L504.0 777.8 L502.3 781.1 L502.3 786.0 L500.7 790.9 L499.0 795.9 L495.7 800.0 L495.7 804.1 L495.7 807.4 L492.4 809.0 L487.5 811.5 L482.6 814.0 L476.8 814.0 L472.7 815.6 L471.1 818.9 L471.9 823.8 L474.4 822.2 L477.7 819.7 L480.9 818.1 L482.6 820.5 L479.3 826.3 L476.0 830.4 L474.4 833.7 L471.1 836.1 L467.0 837.0 L462.9 837.0 L458.8 836.1 L454.7 837.0 L451.4 834.5 L451.4 830.4 L451.4 825.5 L453.0 820.5 L450.5 818.9 L447.3 818.1 L444.0 818.1 L442.3 816.4 Z" fill="#85d1dc" />
<path d="M252.8 836.6 L356.6 861.2 L441.0 885.5 L577.0 896.7 L775.2 837.0 L917.9 730.5 L953.8 695.4 L1000.0 648.4 L1040.0 598.0 L1080.0 545.0 L1116.0 494.5" fill="none" stroke="#e0402a" stroke-width="3.2" stroke-linejoin="round"/>
<text transform="translate(382.30 259.00) scale(1 1.03)" font-size="45.6" fill="#111" >Venezuela</text>
<text transform="translate(136.38 358.40) scale(1 1.03)" font-size="45.6" fill="#111" >Colombia</text>
<text transform="translate(128.76 608.80) scale(1 1.03)" font-size="45.6" fill="#111" >Peru</text>
<text transform="translate(361.06 1021.30) scale(1 1.03)" font-size="45.6" fill="#111" >Bolívia</text>
<text transform="translate(717.50 379.29) rotate(-90) scale(1 1.03)" font-size="45.5" fill="#111">Guiana</text>
<text transform="translate(811.10 361.98) rotate(-90) scale(1 1.03)" font-size="28.2" fill="#111">Suriname</text>
<text transform="translate(927.80 364.13) rotate(-90) scale(1 1.03)" font-size="22.3" fill="#111">F. Guiana</text>
<text transform="translate(478.42 464.60) scale(1 1.03)" font-size="34.4" font-style="italic" fill="#fff" >Yanomami</text>
<text transform="translate(814.10 570.40) scale(1 1.03)" font-size="34.4" font-style="italic" fill="#fff" >Cachoeira</text>
<text transform="translate(854.53 611.40) scale(1 1.03)" font-size="34.4" font-style="italic" fill="#fff" >Seca</text>
<text transform="translate(791.61 688.70) scale(1 1.03)" font-size="34.4" font-style="italic" fill="#fff" >Terra</text>
<text transform="translate(768.84 731.40) scale(1 1.03)" font-size="34.4" font-style="italic" fill="#fff" >do Meio</text>
<text transform="translate(371.94 743.90) scale(1 1.03)" font-size="34.4" font-style="italic" fill="#fff" >P.N. Mapinguari</text>
<text transform="translate(506.03 862.30) scale(1 1.03)" font-size="34.4" font-style="italic" fill="#fff" >Uru-Eu-Wau-Wau</text>
<text transform="translate(904.54 823.40) scale(1 1.03)" font-size="34.4" font-style="italic" fill="#fff" >Kayapó</text>
<text transform="translate(862.64 872.70) scale(1 1.03)" font-size="34.4" font-style="italic" fill="#fff" >P. Xingú</text>
<text transform="translate(941.70 669.00) scale(1 1.03)" font-size="34.4" font-style="italic" fill="#fff" >Apyterewa</text>
<text transform="translate(1106.10 639.40) scale(1 1.03)" font-size="34.4" font-style="italic" fill="#fff" >Arariboia</text>
<text transform="translate(993.24 921.20) scale(1 1.03)" font-size="34.3" font-style="italic" fill="#111" >Maraiwãtsédé</text>
<rect x="152.9" y="911.9" width="82.1" height="309.2" fill="#fff" stroke="#333" stroke-width="1.2"/>
<rect x="174.2" y="922.7" width="10.9" height="57.5" fill="#8fd14f"/>
<rect x="174.2" y="980.2" width="10.9" height="58.5" fill="#48c19a"/>
<rect x="174.2" y="1038.7" width="10.9" height="54.899999999999864" fill="#39788a"/>
<rect x="174.2" y="1093.6" width="10.9" height="58.5" fill="#46478f"/>
<rect x="174.2" y="1152.1" width="10.9" height="57.5" fill="#421a58"/>
<line x1="185" y1="980.2" x2="198.2" y2="980.2" stroke="#111" stroke-width="1.6"/>
<line x1="185" y1="1152.1" x2="198.2" y2="1152.1" stroke="#111" stroke-width="1.6"/>
<text transform="translate(192.8 956.2) scale(0.86 1.03)" font-size="22.5" fill="#111">WB</text>
<text transform="translate(191.5 1190) scale(0.86 1.03)" font-size="22.5" fill="#111">NF</text>
<text transform="translate(207.5 1066.1) rotate(-90) scale(0.975 1)" font-size="21.5" text-anchor="middle" fill="#111">Open areas¹</text>
<rect x="121.5" y="1241.8" width="1178.4" height="41.4" fill="#fff" stroke="#222" stroke-width="1.5"/>
<circle cx="144.6" cy="1262.6" r="15.2" fill="#f5a04a"/>
<text transform="translate(162.23 1272.30) scale(1 1.03)" font-size="30" fill="#111" >Indigenous Reserves</text>
<circle cx="574.3" cy="1263.5" r="14.8" fill="#a2dce6"/>
<text transform="translate(591.08 1274.60) scale(1 1.03)" font-size="30" fill="#111" >Conservation Unities</text>
<line x1="1021.6" y1="1281.6" x2="1052.8" y2="1245.5" stroke="#e0402a" stroke-width="3"/>
<text transform="translate(1056.53 1272.30) scale(1 1.03)" font-size="30.1" fill="#111" >Deforestation arc</text>
<rect x="1018.3" y="83.7" width="279.3" height="25.6" fill="#fff" stroke="#808080" stroke-width="1"/>
<rect x="1018.3" y="83.7" width="70.3" height="25.6" fill="#000"/>
<rect x="1158" y="83.7" width="69.6" height="25.6" fill="#000"/>
<text transform="translate(1009.45 136.20) scale(1 1.03)" font-size="28.8" fill="#111" >800 km</text>
<path d="M1185.9 116.5 L1109.3 268.7 L1185.9 193.1 Z" fill="#fff" stroke="#333" stroke-width="0.8"/>
<path d="M1185.9 116.5 L1263.1 268.7 L1185.9 193.1 Z" fill="#000"/>
<text transform="translate(1166.47 288.80) scale(1 1.03)" font-size="55.3" fill="#111" >N</text>
<rect x="1030.0" y="962.0" width="268.1" height="273.8" fill="#fff"/>
<path d="M1036.1 966.1 L1042.2 972.2 L1044.3 984.4 L1054.4 988.4 L1068.6 994.5 L1082.8 995.5 L1086.9 1000.6 L1085.9 1010.8 L1086.9 1020.9 L1091.0 1030.1 L1088.9 1039.2 M1047.3 963.0 L1048.3 968.1 L1052.4 970.2 L1055.4 968.1 L1054.4 963.0 M1131.6 963.0 L1135.7 964.1 L1138.7 966.1 L1141.8 969.1 L1143.8 974.2 L1147.8 977.3 L1153.9 978.3 L1158.0 982.3 L1162.1 988.4 L1164.1 994.5 L1170.2 995.5 L1176.3 998.6 L1184.4 996.6 L1194.6 997.6 L1202.7 999.6 L1210.8 1002.7 L1218.9 1008.8 L1225.0 1010.8 M1145.8 978.3 L1143.8 986.4 L1141.8 992.5 L1139.7 1000.6 L1143.8 1004.7 M1176.3 998.6 L1170.2 1006.7 L1169.2 1018.9 L1176.3 1027.0 L1182.4 1031.1 M1202.7 999.6 L1199.6 1010.8 L1202.7 1020.9 L1204.7 1029.1 M1030.0 1059.5 L1036.1 1061.6 L1040.2 1067.7 L1048.3 1069.7 L1056.4 1070.7 L1060.5 1073.8 L1062.5 1081.9 L1058.5 1087.0 M1060.5 1145.9 L1068.6 1150.9 L1072.7 1159.1 L1076.8 1163.1 L1072.7 1173.3 L1070.7 1183.4 L1068.6 1203.8 L1062.5 1224.1 L1060.5 1236.3 M1030.0 1189.5 L1040.2 1193.6 L1052.4 1201.7 L1060.5 1205.8 L1068.6 1203.8 M1133.6 1236.3 L1137.7 1222.0 L1149.9 1220.0 L1166.1 1221.0 L1170.2 1224.1 L1172.2 1236.3 M1166.1 1193.6 L1170.2 1199.7 L1172.2 1209.8 L1170.2 1220.0 M1074.7 1203.8 L1078.8 1215.9 L1076.8 1224.1 L1080.8 1236.3" fill="none" stroke="#6a6a6a" stroke-width="0.5"/>
<path d="M1109.3 1012.8 L1117.4 1015.9 L1125.5 1013.8 L1137.7 1010.8 L1141.8 1008.8 L1145.8 1004.7 L1149.9 1003.7 L1151.9 1006.7 L1153.9 1012.8 L1153.9 1016.9 L1149.9 1020.9 L1151.9 1029.1 L1158.0 1035.2 L1162.1 1038.2 L1170.2 1035.2 L1178.3 1033.1 L1184.4 1032.1 L1190.5 1029.1 L1200.7 1029.1 L1210.8 1030.1 L1216.9 1025.0 L1221.0 1018.9 L1223.0 1012.8 L1226.0 1009.8 L1229.1 1011.8 L1231.1 1020.9 L1233.2 1029.1 L1237.2 1035.2 L1239.3 1041.3 L1241.3 1045.3 L1245.3 1049.4 L1251.4 1053.4 L1261.6 1055.5 L1271.8 1057.5 L1281.9 1061.6 L1288.0 1067.7 L1294.1 1070.7 L1292.1 1073.8 L1288.0 1077.8 L1283.9 1081.9 L1279.9 1085.9 L1277.8 1092.0 L1273.8 1094.1 L1263.6 1096.1 L1257.5 1098.1 L1255.5 1106.3 L1254.5 1114.4 L1251.4 1122.5 L1251.4 1128.6 L1247.4 1122.5 L1243.3 1118.4 L1241.3 1122.5 L1239.3 1128.6 L1237.2 1134.7 L1231.1 1142.8 L1229.1 1153.0 L1227.1 1159.1 L1223.0 1163.1 L1216.9 1167.2 L1208.8 1169.2 L1200.7 1169.2 L1194.6 1167.2 L1188.5 1163.1 L1185.4 1166.2 L1184.4 1170.2 L1181.4 1173.3 L1177.3 1175.7 L1173.2 1177.8 L1170.2 1181.4 L1168.6 1187.5 L1167.8 1192.6 L1158.0 1193.2 L1149.9 1192.6 L1149.5 1185.5 L1148.3 1179.4 L1147.8 1173.3 L1149.9 1175.3 L1152.9 1178.4 L1158.0 1181.0 L1163.1 1181.4 L1168.2 1179.4 L1173.2 1176.9 L1179.3 1173.7 L1183.4 1170.2 L1178.3 1163.1 L1170.2 1158.0 L1162.1 1157.0 L1156.0 1158.0 L1150.9 1160.1 L1147.8 1163.1 L1146.8 1160.1 L1141.8 1161.1 L1135.7 1163.1 L1129.6 1161.1 L1119.4 1155.0 L1109.3 1153.0 L1105.2 1150.9 L1103.2 1144.8 L1105.2 1140.8 L1099.1 1140.8 L1088.9 1138.8 L1080.8 1142.8 L1072.7 1144.8 L1068.6 1146.9 L1060.5 1145.9 L1060.5 1136.7 L1052.4 1134.7 L1040.2 1134.7 L1034.1 1128.6 L1031.0 1122.5 L1030.0 1114.4 L1032.1 1110.3 L1034.1 1102.2 L1036.1 1094.1 L1040.2 1090.0 L1048.3 1088.0 L1058.5 1087.0 L1068.6 1085.9 L1070.7 1077.8 L1068.6 1057.5 L1065.6 1047.3 L1064.6 1035.2 L1076.8 1034.1 L1086.9 1031.1 L1090.0 1033.1 L1088.9 1039.2 L1095.0 1041.3 L1099.1 1039.2 L1105.2 1037.2 L1113.3 1031.1 L1115.3 1025.0 L1113.3 1018.9 Z" fill="#421a58"/>
<clipPath id="insclip"><path d="M1109.3 1012.8 L1117.4 1015.9 L1125.5 1013.8 L1137.7 1010.8 L1141.8 1008.8 L1145.8 1004.7 L1149.9 1003.7 L1151.9 1006.7 L1153.9 1012.8 L1153.9 1016.9 L1149.9 1020.9 L1151.9 1029.1 L1158.0 1035.2 L1162.1 1038.2 L1170.2 1035.2 L1178.3 1033.1 L1184.4 1032.1 L1190.5 1029.1 L1200.7 1029.1 L1210.8 1030.1 L1216.9 1025.0 L1221.0 1018.9 L1223.0 1012.8 L1226.0 1009.8 L1229.1 1011.8 L1231.1 1020.9 L1233.2 1029.1 L1237.2 1035.2 L1239.3 1041.3 L1241.3 1045.3 L1245.3 1049.4 L1251.4 1053.4 L1261.6 1055.5 L1271.8 1057.5 L1281.9 1061.6 L1288.0 1067.7 L1294.1 1070.7 L1292.1 1073.8 L1288.0 1077.8 L1283.9 1081.9 L1279.9 1085.9 L1277.8 1092.0 L1273.8 1094.1 L1263.6 1096.1 L1257.5 1098.1 L1255.5 1106.3 L1254.5 1114.4 L1251.4 1122.5 L1251.4 1128.6 L1247.4 1122.5 L1243.3 1118.4 L1241.3 1122.5 L1239.3 1128.6 L1237.2 1134.7 L1231.1 1142.8 L1229.1 1153.0 L1227.1 1159.1 L1223.0 1163.1 L1216.9 1167.2 L1208.8 1169.2 L1200.7 1169.2 L1194.6 1167.2 L1188.5 1163.1 L1185.4 1166.2 L1184.4 1170.2 L1181.4 1173.3 L1177.3 1175.7 L1173.2 1177.8 L1170.2 1181.4 L1168.6 1187.5 L1167.8 1192.6 L1158.0 1193.2 L1149.9 1192.6 L1149.5 1185.5 L1148.3 1179.4 L1147.8 1173.3 L1149.9 1175.3 L1152.9 1178.4 L1158.0 1181.0 L1163.1 1181.4 L1168.2 1179.4 L1173.2 1176.9 L1179.3 1173.7 L1183.4 1170.2 L1178.3 1163.1 L1170.2 1158.0 L1162.1 1157.0 L1156.0 1158.0 L1150.9 1160.1 L1147.8 1163.1 L1146.8 1160.1 L1141.8 1161.1 L1135.7 1163.1 L1129.6 1161.1 L1119.4 1155.0 L1109.3 1153.0 L1105.2 1150.9 L1103.2 1144.8 L1105.2 1140.8 L1099.1 1140.8 L1088.9 1138.8 L1080.8 1142.8 L1072.7 1144.8 L1068.6 1146.9 L1060.5 1145.9 L1060.5 1136.7 L1052.4 1134.7 L1040.2 1134.7 L1034.1 1128.6 L1031.0 1122.5 L1030.0 1114.4 L1032.1 1110.3 L1034.1 1102.2 L1036.1 1094.1 L1040.2 1090.0 L1048.3 1088.0 L1058.5 1087.0 L1068.6 1085.9 L1070.7 1077.8 L1068.6 1057.5 L1065.6 1047.3 L1064.6 1035.2 L1076.8 1034.1 L1086.9 1031.1 L1090.0 1033.1 L1088.9 1039.2 L1095.0 1041.3 L1099.1 1039.2 L1105.2 1037.2 L1113.3 1031.1 L1115.3 1025.0 L1113.3 1018.9 Z"/></clipPath>
<g clip-path="url(#insclip)">
<g filter="url(#fims)"><path d="M1137.7 1010.8 L1149.9 1003.7 L1153.9 1012.8 L1149.9 1020.9 L1151.9 1029.1 L1158.0 1035.2 L1149.9 1045.3 L1141.8 1047.3 L1135.7 1037.2 L1133.6 1020.9 Z M1200.7 1073.8 L1210.8 1061.6 L1223.0 1049.4 L1231.1 1045.3 L1241.3 1045.3 L1251.4 1053.4 L1271.8 1057.5 L1294.1 1070.7 L1279.9 1085.9 L1273.8 1094.1 L1257.5 1098.1 L1251.4 1128.6 L1243.3 1118.4 L1237.2 1134.7 L1229.1 1153.0 L1223.0 1163.1 L1208.8 1169.2 L1194.6 1167.2 L1188.5 1163.1 L1182.4 1169.2 L1170.2 1181.4 L1166.1 1193.6 L1149.9 1192.6 L1147.8 1179.4 L1160.0 1163.1 L1141.8 1161.1 L1119.4 1155.0 L1105.2 1150.9 L1103.2 1142.8 L1119.4 1134.7 L1139.7 1126.6 L1160.0 1122.5 L1180.3 1114.4 L1194.6 1102.2 L1200.7 1090.0 Z M1032.1 1110.3 L1040.2 1122.5 L1060.5 1134.7 L1080.8 1138.8 L1088.9 1132.7 L1068.6 1126.6 L1048.3 1120.5 Z" fill="#000"/><path d="M1149.9 1081.9 L1170.2 1073.8 L1186.4 1081.9 L1182.4 1102.2 L1170.2 1114.4 L1158.0 1114.4 L1145.8 1102.2 Z M1202.7 1081.9 L1210.8 1079.8 L1216.9 1090.0 L1210.8 1102.2 L1202.7 1100.2 Z M1210.8 1142.8 L1223.0 1138.8 L1227.1 1150.9 L1218.9 1159.1 L1210.8 1155.0 Z M1261.6 1077.8 L1271.8 1077.8 L1273.8 1090.0 L1263.6 1092.0 Z M1231.1 1110.3 L1241.3 1108.3 L1243.3 1118.4 L1233.2 1120.5 Z" fill="#000" fill-opacity="0"/></g>
<g filter="url(#fimt)"><path d="M1186.4 1150.9 L1200.7 1146.9 L1214.9 1148.9 L1227.1 1155.0 L1223.0 1163.1 L1210.8 1169.2 L1196.6 1167.2 L1188.5 1161.1 Z" fill="#000"/></g>
<path d="M1088.9 1051.4 L1101.1 1051.4 L1113.3 1053.4 L1125.5 1055.5 L1135.7 1061.6 L1143.8 1073.8 L1153.9 1079.8 L1166.1 1073.8 L1178.3 1071.7 L1190.5 1069.7 L1200.7 1065.6 L1210.8 1061.6 L1221.0 1057.5 L1229.1 1053.4 L1237.2 1049.4 L1247.4 1047.3 M1072.7 1063.6 L1088.9 1065.6 L1105.2 1069.7 L1117.4 1077.8 L1125.5 1081.9 L1137.7 1083.9 L1149.9 1081.9 M1113.3 1081.9 L1125.5 1088.0 L1133.6 1088.0 M1251.4 1055.5 L1247.4 1065.6 L1243.3 1073.8 L1241.3 1085.9" fill="none" stroke="#45be99" stroke-width="0.9"/>
</g>
<path d="M1064.6 1035.2 L1076.8 1034.1 L1086.9 1031.1 L1090.0 1033.1 L1088.9 1041.3 L1086.9 1051.4 L1082.8 1053.4 L1070.7 1057.5 L1068.6 1049.4 L1064.6 1047.3 L1068.6 1043.3 L1065.6 1041.3 Z M1032.1 1110.3 L1036.1 1100.2 L1040.2 1094.1 L1052.4 1090.0 L1062.5 1089.0 L1068.6 1092.0 L1070.7 1098.1 L1068.6 1106.3 L1062.5 1110.3 L1052.4 1111.3 L1044.3 1112.3 L1036.1 1112.3 Z M1138.7 1011.8 L1143.8 1009.8 L1147.8 1018.9 L1146.8 1023.0 L1143.8 1020.9 L1139.7 1015.9 Z M1184.4 1033.1 L1190.5 1028.0 L1198.6 1029.1 L1199.6 1040.2 L1190.5 1043.3 L1184.4 1043.3 Z M1224.0 1014.8 L1228.1 1015.9 L1228.1 1020.9 L1225.0 1022.0 Z M1265.7 1065.6 L1269.7 1069.7 L1273.8 1075.8 L1271.8 1081.9 L1267.7 1081.9 L1265.7 1073.8 Z M1220.0 1083.9 L1227.1 1082.9 L1230.1 1090.0 L1230.1 1098.1 L1223.0 1098.1 L1220.0 1092.0 Z M1235.2 1090.0 L1239.3 1088.0 L1240.3 1094.1 L1237.2 1096.1 Z M1229.1 1102.2 L1233.2 1102.2 L1234.2 1108.3 L1230.1 1109.3 Z M1194.6 1106.3 L1200.7 1108.3 L1206.8 1114.4 L1214.9 1122.5 L1223.0 1126.6 L1221.0 1132.7 L1214.9 1136.7 L1212.8 1142.8 L1208.8 1140.8 L1204.7 1134.7 L1200.7 1130.6 L1198.6 1122.5 L1195.6 1114.4 Z M1168.2 1104.2 L1172.2 1106.3 L1176.3 1114.4 L1180.3 1122.5 L1180.3 1128.6 L1174.3 1130.6 L1170.2 1128.6 L1168.2 1118.4 L1166.1 1110.3 Z M1175.3 1077.8 L1179.3 1076.8 L1182.4 1081.9 L1180.3 1088.0 L1176.3 1085.9 Z M1133.6 1108.3 L1137.7 1109.3 L1138.7 1120.5 L1135.7 1128.6 L1132.6 1124.5 L1131.6 1116.4 Z M1111.3 1118.4 L1115.3 1117.4 L1116.4 1126.6 L1113.3 1128.6 L1111.3 1124.5 Z M1141.8 1134.7 L1149.9 1136.7 L1156.0 1138.8 L1158.0 1150.9 L1153.9 1157.0 L1147.8 1155.0 L1143.8 1146.9 L1139.7 1140.8 Z M1105.2 1146.9 L1109.3 1145.9 L1110.3 1152.0 L1107.2 1153.0 Z M1210.8 1081.9 L1214.9 1081.9 L1213.9 1084.9 L1209.8 1084.9 Z M1095.0 1130.6 L1098.1 1130.6 L1098.1 1133.7 L1095.0 1133.7 Z M1170.2 1161.1 L1173.2 1160.1 L1174.3 1163.1 L1171.2 1164.1 Z M1166.1 1140.8 L1168.2 1141.8 L1168.2 1144.8 L1166.1 1144.8 Z" fill="#d07428"/>
<path d="M1151.9 1161.1 L1160.0 1158.0 L1162.1 1162.1 L1158.0 1167.2 L1153.9 1169.2 L1151.9 1165.2 Z M1221.0 1167.2 L1227.1 1165.2 L1228.1 1167.2 L1223.0 1169.2 Z" fill="#f3a04c"/>
<path d="M1087.9 1070.7 L1097.1 1067.7 L1104.2 1065.6 L1109.3 1073.8 L1108.2 1077.8 L1103.2 1075.8 L1097.1 1072.7 L1091.0 1073.8 Z M1111.3 1082.9 L1117.4 1081.9 L1118.4 1084.9 L1113.3 1085.9 Z M1217.9 1053.4 L1223.0 1052.4 L1225.0 1056.5 L1221.0 1059.5 L1217.9 1057.5 Z M1206.8 1065.6 L1214.9 1063.6 L1220.0 1064.6 L1220.0 1072.7 L1214.9 1073.8 L1208.8 1071.7 Z M1188.5 1069.7 L1192.5 1068.7 L1194.6 1073.8 L1190.5 1081.9 L1188.5 1077.8 Z M1174.3 1085.9 L1182.4 1081.9 L1186.4 1083.9 L1182.4 1090.0 L1176.3 1092.0 Z M1184.4 1098.1 L1192.5 1092.0 L1198.6 1090.0 L1198.6 1098.1 L1190.5 1102.2 L1186.4 1106.3 Z M1145.8 1098.1 L1149.9 1096.1 L1151.9 1104.2 L1147.8 1106.3 Z M1209.8 1099.1 L1214.9 1098.1 L1215.9 1102.2 L1211.8 1103.2 Z M1158.0 1114.4 L1166.1 1110.3 L1168.2 1122.5 L1170.2 1128.6 L1164.1 1128.6 L1160.0 1122.5 Z M1182.4 1110.3 L1186.4 1108.3 L1190.5 1118.4 L1192.5 1122.5 L1188.5 1122.5 L1184.4 1118.4 Z M1030.0 1114.4 L1036.1 1114.4 L1040.2 1122.5 L1038.2 1128.6 L1032.1 1124.5 Z M1044.3 1116.4 L1048.3 1118.4 L1049.3 1128.6 L1046.3 1129.6 Z M1064.6 1128.6 L1072.7 1130.6 L1080.8 1136.7 L1076.8 1140.8 L1068.6 1140.8 L1064.6 1138.8 Z M1067.6 1140.8 L1076.8 1140.8 L1078.8 1143.8 L1068.6 1144.8 Z M1107.2 1138.8 L1115.3 1136.7 L1123.5 1140.8 L1127.5 1146.9 L1129.6 1153.0 L1125.5 1155.0 L1119.4 1150.9 L1113.3 1146.9 L1109.3 1142.8 Z M1133.6 1128.6 L1141.8 1126.6 L1145.8 1130.6 L1143.8 1134.7 L1137.7 1134.7 Z M1135.7 1132.7 L1141.8 1132.7 L1141.8 1138.8 L1136.7 1138.8 Z M1123.5 1155.0 L1131.6 1155.0 L1133.6 1161.1 L1127.5 1163.1 Z M1137.7 1163.1 L1143.8 1165.2 L1143.8 1169.2 L1138.7 1168.2 Z M1196.6 1126.6 L1200.7 1126.6 L1200.7 1130.6 L1196.6 1130.6 Z" fill="#7cc3d6"/>
<rect x="1030.0" y="962.0" width="268.1" height="273.8" fill="none" stroke="#a0a0a0" stroke-width="0.9"/>
</g>
<rect x="121.5" y="77.2" width="1180.9" height="1216.6" fill="none" stroke="#7a7a7a" stroke-width="1.2"/>
<line x1="95.7" y1="270.1" x2="121.5" y2="270.1" stroke="#808080" stroke-width="1.1"/>
<text transform="translate(71 285.70000000000005) scale(1 1.03)" font-size="42.6" text-anchor="end" fill="#111">5</text>
<line x1="95.7" y1="464.4" x2="121.5" y2="464.4" stroke="#808080" stroke-width="1.1"/>
<text transform="translate(71 480.0) scale(1 1.03)" font-size="42.6" text-anchor="end" fill="#111">0</text>
<line x1="95.7" y1="658.6" x2="121.5" y2="658.6" stroke="#808080" stroke-width="1.1"/>
<text transform="translate(71 674.2) scale(1 1.03)" font-size="42.6" text-anchor="end" fill="#111">−5</text>
<line x1="95.7" y1="852.9" x2="121.5" y2="852.9" stroke="#808080" stroke-width="1.1"/>
<text transform="translate(71 868.5) scale(1 1.03)" font-size="42.6" text-anchor="end" fill="#111">−10</text>
<line x1="95.7" y1="1047.1" x2="121.5" y2="1047.1" stroke="#808080" stroke-width="1.1"/>
<text transform="translate(71 1062.6999999999998) scale(1 1.03)" font-size="42.6" text-anchor="end" fill="#111">−15</text>
<line x1="95.7" y1="1241.3" x2="121.5" y2="1241.3" stroke="#808080" stroke-width="1.1"/>
<text transform="translate(71 1256.8999999999999) scale(1 1.03)" font-size="42.6" text-anchor="end" fill="#111">−20</text>
<line x1="274.7" y1="1293.8" x2="274.7" y2="1319.5" stroke="#808080" stroke-width="1.1"/>
<text transform="translate(273.7 1385.6) scale(1 1.03)" font-size="42.6" text-anchor="middle" fill="#111">−70</text>
<line x1="468.2" y1="1293.8" x2="468.2" y2="1319.5" stroke="#808080" stroke-width="1.1"/>
<text transform="translate(467.2 1385.6) scale(1 1.03)" font-size="42.6" text-anchor="middle" fill="#111">−65</text>
<line x1="661.6" y1="1293.8" x2="661.6" y2="1319.5" stroke="#808080" stroke-width="1.1"/>
<text transform="translate(660.6 1385.6) scale(1 1.03)" font-size="42.6" text-anchor="middle" fill="#111">−60</text>
<line x1="855" y1="1293.8" x2="855" y2="1319.5" stroke="#808080" stroke-width="1.1"/>
<text transform="translate(854 1385.6) scale(1 1.03)" font-size="42.6" text-anchor="middle" fill="#111">−55</text>
<line x1="1048.4" y1="1293.8" x2="1048.4" y2="1319.5" stroke="#808080" stroke-width="1.1"/>
<text transform="translate(1047.4 1385.6) scale(1 1.03)" font-size="42.6" text-anchor="middle" fill="#111">−50</text>
<line x1="1241.8" y1="1293.8" x2="1241.8" y2="1319.5" stroke="#808080" stroke-width="1.1"/>
<text transform="translate(1240.8 1385.6) scale(1 1.03)" font-size="42.6" text-anchor="middle" fill="#111">−45</text>
<text transform="translate(1239.00 73.70) scale(1 1.07)" font-size="100.3" fill="#151515" >A</text>
<line x1="208.4" y1="1495.3" x2="208.4" y2="1910" stroke="#a5a5a5" stroke-width="1.3" />
<line x1="194.9" y1="1495.3" x2="208.4" y2="1495.3" stroke="#707070" stroke-width="1" />
<text transform="translate(181.70 1503.30) scale(1 1.03)" font-size="22.2" text-anchor="end" fill="#111">1.0</text>
<line x1="194.9" y1="1599" x2="208.4" y2="1599" stroke="#707070" stroke-width="1" />
<text transform="translate(181.70 1607.00) scale(1 1.03)" font-size="22.2" text-anchor="end" fill="#111">0.5</text>
<line x1="194.9" y1="1702.7" x2="208.4" y2="1702.7" stroke="#707070" stroke-width="1" />
<text transform="translate(181.70 1710.70) scale(1 1.03)" font-size="22.2" text-anchor="end" fill="#111">0.0</text>
<line x1="194.9" y1="1806.4" x2="208.4" y2="1806.4" stroke="#707070" stroke-width="1" />
<text transform="translate(181.70 1814.40) scale(1 1.03)" font-size="22.2" text-anchor="end" fill="#111">−0.5</text>
<line x1="194.9" y1="1910" x2="208.4" y2="1910" stroke="#707070" stroke-width="1" />
<text transform="translate(181.70 1918.00) scale(1 1.03)" font-size="22.2" text-anchor="end" fill="#111">−1.0</text>
<line x1="226.8" y1="1702.5" x2="312.5" y2="1702.5" stroke="#000" stroke-width="3.3" />
<line x1="332.7" y1="1702.5" x2="418.4" y2="1702.5" stroke="#000" stroke-width="3.3" />
<path d="M269.6 1939.5 V1926.5 H375.5 V1939.5" fill="none" stroke="#a8a8a8" stroke-width="1.3"/>
<text transform="translate(103.8 1713.3) rotate(-90) scale(1 1.03)" font-size="40" text-anchor="middle" fill="#111">log<tspan font-size="27">10</tspan> (Mining)</text>
<line x1="648.3" y1="1583.9" x2="648.3" y2="1916.7" stroke="#a5a5a5" stroke-width="1.3" />
<line x1="634.8" y1="1583.9" x2="648.3" y2="1583.9" stroke="#707070" stroke-width="1" />
<text transform="translate(621.60 1591.90) scale(1 1.03)" font-size="22.2" text-anchor="end" fill="#111">6</text>
<line x1="634.8" y1="1694.8" x2="648.3" y2="1694.8" stroke="#707070" stroke-width="1" />
<text transform="translate(621.60 1702.80) scale(1 1.03)" font-size="22.2" text-anchor="end" fill="#111">4</text>
<line x1="634.8" y1="1805.7" x2="648.3" y2="1805.7" stroke="#707070" stroke-width="1" />
<text transform="translate(621.60 1813.70) scale(1 1.03)" font-size="22.2" text-anchor="end" fill="#111">2</text>
<line x1="634.8" y1="1916.7" x2="648.3" y2="1916.7" stroke="#707070" stroke-width="1" />
<text transform="translate(621.60 1924.70) scale(1 1.03)" font-size="22.2" text-anchor="end" fill="#111">0</text>
<line x1="709.9000000000001" y1="1497.2" x2="709.9000000000001" y2="1650.3" stroke="#787878" stroke-width="1.25" stroke-dasharray="7 10.5"/>
<line x1="688.7500000000001" y1="1497.2" x2="731.0500000000001" y2="1497.2" stroke="#787878" stroke-width="1.25" />
<line x1="709.9000000000001" y1="1909.6" x2="709.9000000000001" y2="1790.3" stroke="#787878" stroke-width="1.25" stroke-dasharray="7 10.5"/>
<line x1="688.7500000000001" y1="1909.6" x2="731.0500000000001" y2="1909.6" stroke="#787878" stroke-width="1.25" />
<rect x="667.6" y="1650.3" width="84.60000000000002" height="140.0" fill="#f9f1a9" stroke="#6e6e6e" stroke-width="1"/>
<line x1="667.6" y1="1727.1" x2="752.2" y2="1727.1" stroke="#000" stroke-width="3" />
<line x1="815.95" y1="1495.1" x2="815.95" y2="1510.2" stroke="#787878" stroke-width="1.25" stroke-dasharray="7 10.5"/>
<line x1="794.625" y1="1495.1" x2="837.2750000000001" y2="1495.1" stroke="#787878" stroke-width="1.25" />
<line x1="815.95" y1="1568.8" x2="815.95" y2="1548.5" stroke="#787878" stroke-width="1.25" stroke-dasharray="7 10.5"/>
<line x1="794.625" y1="1568.8" x2="837.2750000000001" y2="1568.8" stroke="#787878" stroke-width="1.25" />
<rect x="773.3" y="1510.2" width="85.30000000000007" height="38.299999999999955" fill="#9e2e69" stroke="#6e6e6e" stroke-width="1"/>
<line x1="773.3" y1="1533.4" x2="858.6" y2="1533.4" stroke="#000" stroke-width="3" />
<path d="M710 1939.5 V1926.5 H816 V1939.5" fill="none" stroke="#a8a8a8" stroke-width="1.3"/>
<text transform="translate(571.2 1733) rotate(-90) scale(1 1.03)" font-size="40" text-anchor="middle" fill="#111">log<tspan font-size="27">10</tspan> (Pasture)</text>
<line x1="1089.1" y1="1541.7" x2="1089.1" y2="1910.2" stroke="#a5a5a5" stroke-width="1.3" />
<line x1="1075.6" y1="1541.7" x2="1089.1" y2="1541.7" stroke="#707070" stroke-width="1" />
<text transform="translate(1062.40 1549.70) scale(1 1.03)" font-size="22.2" text-anchor="end" fill="#111">5</text>
<line x1="1075.6" y1="1615.4" x2="1089.1" y2="1615.4" stroke="#707070" stroke-width="1" />
<text transform="translate(1062.40 1623.40) scale(1 1.03)" font-size="22.2" text-anchor="end" fill="#111">4</text>
<line x1="1075.6" y1="1689.1000000000001" x2="1089.1" y2="1689.1000000000001" stroke="#707070" stroke-width="1" />
<text transform="translate(1062.40 1697.10) scale(1 1.03)" font-size="22.2" text-anchor="end" fill="#111">3</text>
<line x1="1075.6" y1="1762.8000000000002" x2="1089.1" y2="1762.8000000000002" stroke="#707070" stroke-width="1" />
<text transform="translate(1062.40 1770.80) scale(1 1.03)" font-size="22.2" text-anchor="end" fill="#111">2</text>
<line x1="1075.6" y1="1836.5" x2="1089.1" y2="1836.5" stroke="#707070" stroke-width="1" />
<text transform="translate(1062.40 1844.50) scale(1 1.03)" font-size="22.2" text-anchor="end" fill="#111">1</text>
<line x1="1075.6" y1="1910.2" x2="1089.1" y2="1910.2" stroke="#707070" stroke-width="1" />
<text transform="translate(1062.40 1918.20) scale(1 1.03)" font-size="22.2" text-anchor="end" fill="#111">0</text>
<line x1="1150.85" y1="1570.2" x2="1150.85" y2="1763.5" stroke="#787878" stroke-width="1.25" stroke-dasharray="7 10.5"/>
<line x1="1129.7749999999999" y1="1570.2" x2="1171.925" y2="1570.2" stroke="#787878" stroke-width="1.25" />
<line x1="1150.85" y1="1910.2" x2="1150.85" y2="1893.1" stroke="#787878" stroke-width="1.25" stroke-dasharray="7 10.5"/>
<line x1="1129.7749999999999" y1="1910.2" x2="1171.925" y2="1910.2" stroke="#787878" stroke-width="1.25" />
<rect x="1108.7" y="1763.5" width="84.29999999999995" height="129.5999999999999" fill="#f9f1a9" stroke="#6e6e6e" stroke-width="1"/>
<line x1="1108.7" y1="1841.7" x2="1193" y2="1841.7" stroke="#000" stroke-width="3" />
<line x1="1256.9499999999998" y1="1503" x2="1256.9499999999998" y2="1525.2" stroke="#787878" stroke-width="1.25" stroke-dasharray="7 10.5"/>
<line x1="1235.7749999999999" y1="1503" x2="1278.1249999999998" y2="1503" stroke="#787878" stroke-width="1.25" />
<line x1="1256.9499999999998" y1="1688.1" x2="1256.9499999999998" y2="1632.5" stroke="#787878" stroke-width="1.25" stroke-dasharray="7 10.5"/>
<line x1="1235.7749999999999" y1="1688.1" x2="1278.1249999999998" y2="1688.1" stroke="#787878" stroke-width="1.25" />
<rect x="1214.6" y="1525.2" width="84.70000000000005" height="107.29999999999995" fill="#9e2e69" stroke="#6e6e6e" stroke-width="1"/>
<line x1="1214.6" y1="1587.3" x2="1299.3" y2="1587.3" stroke="#000" stroke-width="3" />
<rect x="1147" y="1492" width="4.8" height="13.0" rx="0.8" fill="#0a0a0a"/>
<rect x="1147" y="1516.2" width="4.8" height="14.6" rx="0.8" fill="#0a0a0a"/>
<rect x="1147" y="1536.1" width="4.8" height="7.6" rx="0.8" fill="#0a0a0a"/>
<path d="M1150.5 1939.4 V1926.3 H1256.4 V1939.4" fill="none" stroke="#a8a8a8" stroke-width="1.3"/>
<text transform="translate(1018.4 1708.1) rotate(-90) scale(1 1.03)" font-size="40" text-anchor="middle" fill="#111">log<tspan font-size="27">10</tspan> (Deforestation)</text>
<line x1="206.7" y1="2035.4" x2="206.7" y2="2390.32" stroke="#a5a5a5" stroke-width="1.3" />
<line x1="193.2" y1="2035.4" x2="206.7" y2="2035.4" stroke="#707070" stroke-width="1" />
<text transform="translate(180.00 2043.40) scale(1 1.03)" font-size="22.2" text-anchor="end" fill="#111">4</text>
<line x1="193.2" y1="2124.13" x2="206.7" y2="2124.13" stroke="#707070" stroke-width="1" />
<text transform="translate(180.00 2132.13) scale(1 1.03)" font-size="22.2" text-anchor="end" fill="#111">3</text>
<line x1="193.2" y1="2212.86" x2="206.7" y2="2212.86" stroke="#707070" stroke-width="1" />
<text transform="translate(180.00 2220.86) scale(1 1.03)" font-size="22.2" text-anchor="end" fill="#111">2</text>
<line x1="193.2" y1="2301.59" x2="206.7" y2="2301.59" stroke="#707070" stroke-width="1" />
<text transform="translate(180.00 2309.59) scale(1 1.03)" font-size="22.2" text-anchor="end" fill="#111">1</text>
<line x1="193.2" y1="2390.32" x2="206.7" y2="2390.32" stroke="#707070" stroke-width="1" />
<text transform="translate(180.00 2398.32) scale(1 1.03)" font-size="22.2" text-anchor="end" fill="#111">0</text>
<line x1="225.2" y1="2390.3" x2="311.9" y2="2390.3" stroke="#000" stroke-width="3.3" />
<line x1="374.5" y1="1975" x2="374.5" y2="2051.6" stroke="#787878" stroke-width="1.25" stroke-dasharray="7 10.5"/>
<line x1="353.25" y1="1975" x2="395.75" y2="1975" stroke="#787878" stroke-width="1.25" />
<rect x="332" y="2051.6" width="85" height="338.7000000000003" fill="#9e2e69" stroke="#6e6e6e" stroke-width="1"/>
<line x1="332" y1="2256.6" x2="417" y2="2256.6" stroke="#000" stroke-width="3" />
<path d="M268.5 2420 V2406.5 H374.5 V2420" fill="none" stroke="#a8a8a8" stroke-width="1.3"/>
<text transform="translate(114.1 2186.9) rotate(-90) scale(1 1.03)" font-size="40" text-anchor="middle" fill="#111">log<tspan font-size="27">10</tspan> (Roads)</text>
<line x1="647.6" y1="2007.7" x2="647.6" y2="2390.3" stroke="#a5a5a5" stroke-width="1.3" />
<line x1="634.1" y1="2007.7" x2="647.6" y2="2007.7" stroke="#707070" stroke-width="1" />
<text transform="translate(620.90 2015.70) scale(1 1.03)" font-size="22.2" text-anchor="end" fill="#111">8</text>
<line x1="634.1" y1="2103.35" x2="647.6" y2="2103.35" stroke="#707070" stroke-width="1" />
<text transform="translate(620.90 2111.35) scale(1 1.03)" font-size="22.2" text-anchor="end" fill="#111">6</text>
<line x1="634.1" y1="2199.0" x2="647.6" y2="2199.0" stroke="#707070" stroke-width="1" />
<text transform="translate(620.90 2207.00) scale(1 1.03)" font-size="22.2" text-anchor="end" fill="#111">4</text>
<line x1="634.1" y1="2294.65" x2="647.6" y2="2294.65" stroke="#707070" stroke-width="1" />
<text transform="translate(620.90 2302.65) scale(1 1.03)" font-size="22.2" text-anchor="end" fill="#111">2</text>
<line x1="634.1" y1="2390.3" x2="647.6" y2="2390.3" stroke="#707070" stroke-width="1" />
<text transform="translate(620.90 2398.30) scale(1 1.03)" font-size="22.2" text-anchor="end" fill="#111">0</text>
<line x1="708.9000000000001" y1="1975.1" x2="708.9000000000001" y2="2141.8" stroke="#787878" stroke-width="1.25" stroke-dasharray="7 10.5"/>
<line x1="687.7500000000001" y1="1975.1" x2="730.0500000000001" y2="1975.1" stroke="#787878" stroke-width="1.25" />
<line x1="708.9000000000001" y1="2390.3" x2="708.9000000000001" y2="2254.8" stroke="#787878" stroke-width="1.25" stroke-dasharray="7 10.5"/>
<line x1="687.7500000000001" y1="2390.3" x2="730.0500000000001" y2="2390.3" stroke="#787878" stroke-width="1.25" />
<rect x="666.6" y="2141.8" width="84.60000000000002" height="113.0" fill="#f9f1a9" stroke="#6e6e6e" stroke-width="1"/>
<line x1="666.6" y1="2191.3" x2="751.2" y2="2191.3" stroke="#000" stroke-width="3" />
<line x1="815.05" y1="1992.3" x2="815.05" y2="2015.5" stroke="#787878" stroke-width="1.25" stroke-dasharray="7 10.5"/>
<line x1="793.8249999999999" y1="1992.3" x2="836.275" y2="1992.3" stroke="#787878" stroke-width="1.25" />
<line x1="815.05" y1="2061.4" x2="815.05" y2="2037.6" stroke="#787878" stroke-width="1.25" stroke-dasharray="7 10.5"/>
<line x1="793.8249999999999" y1="2061.4" x2="836.275" y2="2061.4" stroke="#787878" stroke-width="1.25" />
<rect x="772.6" y="2015.5" width="84.89999999999998" height="22.09999999999991" fill="#9e2e69" stroke="#6e6e6e" stroke-width="1"/>
<line x1="772.6" y1="2027.4" x2="857.5" y2="2027.4" stroke="#000" stroke-width="3" />
<path d="M709 2420.2 V2406.8 H815 V2420.2" fill="none" stroke="#a8a8a8" stroke-width="1.3"/>
<text transform="translate(570.9 2172.3) rotate(-90) scale(1 1.03)" font-size="40" text-anchor="middle" fill="#111">log<tspan font-size="27">10</tspan> (Fires)</text>
<line x1="1088.1" y1="1986.3" x2="1088.1" y2="2389.8" stroke="#a5a5a5" stroke-width="1.3" />
<line x1="1074.6" y1="1986.3" x2="1088.1" y2="1986.3" stroke="#707070" stroke-width="1" />
<text transform="translate(1061.40 1994.30) scale(1 1.03)" font-size="22.2" text-anchor="end" fill="#111">0.30</text>
<line x1="1074.6" y1="2053.55" x2="1088.1" y2="2053.55" stroke="#707070" stroke-width="1" />
<text transform="translate(1061.40 2061.55) scale(1 1.03)" font-size="22.2" text-anchor="end" fill="#111">0.25</text>
<line x1="1074.6" y1="2120.8" x2="1088.1" y2="2120.8" stroke="#707070" stroke-width="1" />
<text transform="translate(1061.40 2128.80) scale(1 1.03)" font-size="22.2" text-anchor="end" fill="#111">0.20</text>
<line x1="1074.6" y1="2188.05" x2="1088.1" y2="2188.05" stroke="#707070" stroke-width="1" />
<text transform="translate(1061.40 2196.05) scale(1 1.03)" font-size="22.2" text-anchor="end" fill="#111">0.15</text>
<line x1="1074.6" y1="2255.3" x2="1088.1" y2="2255.3" stroke="#707070" stroke-width="1" />
<text transform="translate(1061.40 2263.30) scale(1 1.03)" font-size="22.2" text-anchor="end" fill="#111">0.10</text>
<line x1="1074.6" y1="2322.55" x2="1088.1" y2="2322.55" stroke="#707070" stroke-width="1" />
<text transform="translate(1061.40 2330.55) scale(1 1.03)" font-size="22.2" text-anchor="end" fill="#111">0.05</text>
<line x1="1074.6" y1="2389.8" x2="1088.1" y2="2389.8" stroke="#707070" stroke-width="1" />
<text transform="translate(1061.40 2397.80) scale(1 1.03)" font-size="22.2" text-anchor="end" fill="#111">0.00</text>
<line x1="1149.3" y1="1975.3" x2="1149.3" y2="2212.9" stroke="#787878" stroke-width="1.25" stroke-dasharray="7 10.5"/>
<line x1="1128.15" y1="1975.3" x2="1170.4499999999998" y2="1975.3" stroke="#787878" stroke-width="1.25" />
<line x1="1149.3" y1="2389.8" x2="1149.3" y2="2384" stroke="#787878" stroke-width="1.25" stroke-dasharray="7 10.5"/>
<line x1="1128.15" y1="2389.8" x2="1170.4499999999998" y2="2389.8" stroke="#787878" stroke-width="1.25" />
<rect x="1107" y="2212.9" width="84.59999999999991" height="171.0999999999999" fill="#f9f1a9" stroke="#6e6e6e" stroke-width="1"/>
<line x1="1107" y1="2362.3" x2="1191.6" y2="2362.3" stroke="#000" stroke-width="3" />
<line x1="1149.3" y1="2384" x2="1149.3" y2="2389.8" stroke="#777" stroke-width="1" />
<line x1="1128.5" y1="2389.8" x2="1170.7" y2="2389.8" stroke="#777" stroke-width="1" />
<rect x="1213.5" y="2384.5" width="84" height="4.6" fill="#9e2e69" stroke="#000" stroke-width="2.2"/>
<path d="M1149.5 2419.3 V2406.2 H1255.4 V2419.3" fill="none" stroke="#a8a8a8" stroke-width="1.3"/>
<text transform="translate(989.2 2174.7) rotate(-90) scale(1 1.03)" font-size="40" text-anchor="middle" fill="#111">log<tspan font-size="27">10</tspan> (HPD)</text>
<text transform="translate(250.07 2448.00) scale(1 1.03)" font-size="30.5" fill="#111" >no</text>
<text transform="translate(344.98 2448.00) scale(1 1.03)" font-size="30.5" fill="#111" >yes</text>
<text transform="translate(221.59 2491.80) scale(1 1.03)" font-size="30.5" fill="#111" >Prioritized area</text>
<text transform="translate(694.07 2448.00) scale(1 1.03)" font-size="30.5" fill="#111" >no</text>
<text transform="translate(785.58 2448.00) scale(1 1.03)" font-size="30.5" fill="#111" >yes</text>
<text transform="translate(653.59 2491.80) scale(1 1.03)" font-size="30.5" fill="#111" >Prioritized area</text>
<text transform="translate(1133.07 2448.00) scale(1 1.03)" font-size="30.5" fill="#111" >no</text>
<text transform="translate(1230.78 2448.00) scale(1 1.03)" font-size="30.5" fill="#111" >yes</text>
<text transform="translate(1089.79 2491.80) scale(1 1.03)" font-size="30.5" fill="#111" >Prioritized area</text>
<text transform="translate(1277.06 1499.90) scale(1 1.065)" font-size="100.5" fill="#151515" >B</text>
</svg></body></html>
